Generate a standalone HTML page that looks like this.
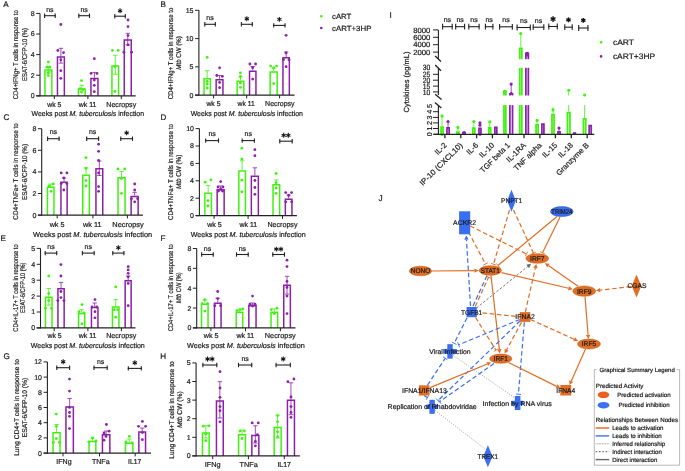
<!DOCTYPE html>
<html><head><meta charset="utf-8"><style>
html,body{margin:0;padding:0;background:#fff;}
svg{display:block;font-family:"Liberation Sans", sans-serif;will-change:transform;text-rendering:geometricPrecision;}
svg text{stroke:#1a1a1a;stroke-width:0.2px;}
</style></head><body>
<svg width="685" height="471" viewBox="0 0 685 471">
<rect width="685" height="471" fill="#fff"/>
<line x1="40" y1="13.4" x2="40" y2="96.3" stroke="#222" stroke-width="1.1" />
<line x1="36.2" y1="95.8" x2="40" y2="95.8" stroke="#222" stroke-width="1" />
<text x="34.6" y="98.25" font-size="7" text-anchor="end" fill="#1a1a1a">0</text>
<line x1="36.2" y1="75.2" x2="40" y2="75.2" stroke="#222" stroke-width="1" />
<text x="34.6" y="77.65" font-size="7" text-anchor="end" fill="#1a1a1a">2</text>
<line x1="36.2" y1="54.6" x2="40" y2="54.6" stroke="#222" stroke-width="1" />
<text x="34.6" y="57.05" font-size="7" text-anchor="end" fill="#1a1a1a">4</text>
<line x1="36.2" y1="34" x2="40" y2="34" stroke="#222" stroke-width="1" />
<text x="34.6" y="36.45" font-size="7" text-anchor="end" fill="#1a1a1a">6</text>
<line x1="36.2" y1="13.4" x2="40" y2="13.4" stroke="#222" stroke-width="1" />
<text x="34.6" y="15.85" font-size="7" text-anchor="end" fill="#1a1a1a">8</text>
<path d="M44.95 95.8 V69.95 H51.85 V95.8" fill="none" stroke="rgb(62,243,12)" stroke-width="1.5"/>
<line x1="48.4" y1="66.4" x2="48.4" y2="71.9" stroke="rgb(62,243,12)" stroke-width="0.8" />
<line x1="46.2" y1="66.4" x2="50.6" y2="66.4" stroke="rgb(62,243,12)" stroke-width="0.8" />
<line x1="46.2" y1="71.9" x2="50.6" y2="71.9" stroke="rgb(62,243,12)" stroke-width="0.8" />
<circle cx="48.3" cy="61.9" r="1.4" fill="rgb(62,243,12)"/>
<circle cx="46.8" cy="67.2" r="1.4" fill="rgb(62,243,12)"/>
<circle cx="49.8" cy="67.2" r="1.4" fill="rgb(62,243,12)"/>
<circle cx="48.3" cy="73" r="1.4" fill="rgb(62,243,12)"/>
<circle cx="48.3" cy="75.6" r="1.4" fill="rgb(62,243,12)"/>
<path d="M57.45 95.8 V57.05 H64.35 V95.8" fill="none" stroke="rgb(140,32,168)" stroke-width="1.5"/>
<line x1="60.9" y1="48.3" x2="60.9" y2="63.1" stroke="rgb(140,32,168)" stroke-width="0.8" />
<line x1="58.7" y1="48.3" x2="63.1" y2="48.3" stroke="rgb(140,32,168)" stroke-width="0.8" />
<line x1="58.7" y1="63.1" x2="63.1" y2="63.1" stroke="rgb(140,32,168)" stroke-width="0.8" />
<circle cx="57.8" cy="50.5" r="1.4" fill="rgb(140,32,168)"/>
<circle cx="63.5" cy="52.6" r="1.4" fill="rgb(140,32,168)"/>
<circle cx="60.8" cy="59.8" r="1.4" fill="rgb(140,32,168)"/>
<circle cx="60.8" cy="70.7" r="1.4" fill="rgb(140,32,168)"/>
<circle cx="60.8" cy="78.3" r="1.4" fill="rgb(140,32,168)"/>
<circle cx="60.8" cy="24.5" r="1.4" fill="rgb(140,32,168)"/>
<path d="M78.45 95.8 V88.95 H85.15 V95.8" fill="none" stroke="rgb(62,243,12)" stroke-width="1.5"/>
<line x1="81.8" y1="85.3" x2="81.8" y2="88.2" stroke="rgb(62,243,12)" stroke-width="0.8" />
<line x1="79.6" y1="85.3" x2="84" y2="85.3" stroke="rgb(62,243,12)" stroke-width="0.8" />
<circle cx="81.5" cy="80.6" r="1.4" fill="rgb(62,243,12)"/>
<circle cx="80" cy="88.7" r="1.4" fill="rgb(62,243,12)"/>
<circle cx="83" cy="89.5" r="1.4" fill="rgb(62,243,12)"/>
<circle cx="81.5" cy="92" r="1.4" fill="rgb(62,243,12)"/>
<path d="M90.95 95.8 V78.45 H97.95 V95.8" fill="none" stroke="rgb(140,32,168)" stroke-width="1.5"/>
<line x1="94.45" y1="72.4" x2="94.45" y2="77.7" stroke="rgb(140,32,168)" stroke-width="0.8" />
<line x1="92.25" y1="72.4" x2="96.65" y2="72.4" stroke="rgb(140,32,168)" stroke-width="0.8" />
<circle cx="94.3" cy="58.7" r="1.4" fill="rgb(140,32,168)"/>
<circle cx="91.1" cy="73.4" r="1.4" fill="rgb(140,32,168)"/>
<circle cx="97" cy="73.4" r="1.4" fill="rgb(140,32,168)"/>
<circle cx="94.3" cy="80" r="1.4" fill="rgb(140,32,168)"/>
<circle cx="94.3" cy="85.3" r="1.4" fill="rgb(140,32,168)"/>
<circle cx="94.3" cy="91.7" r="1.4" fill="rgb(140,32,168)"/>
<path d="M111.95 95.8 V66.05 H118.55 V95.8" fill="none" stroke="rgb(62,243,12)" stroke-width="1.5"/>
<line x1="115.25" y1="55.3" x2="115.25" y2="74.3" stroke="rgb(62,243,12)" stroke-width="0.8" />
<line x1="113.05" y1="55.3" x2="117.45" y2="55.3" stroke="rgb(62,243,12)" stroke-width="0.8" />
<line x1="113.05" y1="74.3" x2="117.45" y2="74.3" stroke="rgb(62,243,12)" stroke-width="0.8" />
<circle cx="112.4" cy="50.4" r="1.4" fill="rgb(62,243,12)"/>
<circle cx="118.2" cy="50.4" r="1.4" fill="rgb(62,243,12)"/>
<circle cx="114.9" cy="66.5" r="1.4" fill="rgb(62,243,12)"/>
<circle cx="114.9" cy="91.3" r="1.4" fill="rgb(62,243,12)"/>
<path d="M124.25 95.8 V39.95 H131.25 V95.8" fill="none" stroke="rgb(140,32,168)" stroke-width="1.5"/>
<line x1="127.75" y1="33.3" x2="127.75" y2="44.9" stroke="rgb(140,32,168)" stroke-width="0.8" />
<line x1="125.55" y1="33.3" x2="129.95" y2="33.3" stroke="rgb(140,32,168)" stroke-width="0.8" />
<line x1="125.55" y1="44.9" x2="129.95" y2="44.9" stroke="rgb(140,32,168)" stroke-width="0.8" />
<circle cx="128" cy="20" r="1.4" fill="rgb(140,32,168)"/>
<circle cx="128" cy="26.6" r="1.4" fill="rgb(140,32,168)"/>
<circle cx="128" cy="35.6" r="1.4" fill="rgb(140,32,168)"/>
<circle cx="128" cy="44.8" r="1.4" fill="rgb(140,32,168)"/>
<circle cx="123.9" cy="52.2" r="1.4" fill="rgb(140,32,168)"/>
<circle cx="131.6" cy="52.2" r="1.4" fill="rgb(140,32,168)"/>
<line x1="36.2" y1="95.8" x2="135.7" y2="95.8" stroke="#222" stroke-width="1.2" />
<line x1="54.3" y1="95.8" x2="54.3" y2="99.1" stroke="#222" stroke-width="1" />
<line x1="87.9" y1="95.8" x2="87.9" y2="99.1" stroke="#222" stroke-width="1" />
<line x1="121.3" y1="95.8" x2="121.3" y2="99.1" stroke="#222" stroke-width="1" />
<line x1="44.1" y1="15.7" x2="55.7" y2="15.7" stroke="#222" stroke-width="1.1" />
<line x1="44.6" y1="13.5" x2="44.6" y2="17.9" stroke="#222" stroke-width="1.1" />
<line x1="55.2" y1="13.5" x2="55.2" y2="17.9" stroke="#222" stroke-width="1.1" />
<text x="49.9" y="11.6" font-size="7" text-anchor="middle" fill="#1a1a1a">ns</text>
<line x1="78.3" y1="15.7" x2="90" y2="15.7" stroke="#222" stroke-width="1.1" />
<line x1="78.8" y1="13.5" x2="78.8" y2="17.9" stroke="#222" stroke-width="1.1" />
<line x1="89.5" y1="13.5" x2="89.5" y2="17.9" stroke="#222" stroke-width="1.1" />
<text x="84.15" y="11.6" font-size="7" text-anchor="middle" fill="#1a1a1a">ns</text>
<line x1="114.3" y1="16.2" x2="125.8" y2="16.2" stroke="#222" stroke-width="1.1" />
<line x1="114.8" y1="14" x2="114.8" y2="18.4" stroke="#222" stroke-width="1.1" />
<line x1="125.3" y1="14" x2="125.3" y2="18.4" stroke="#222" stroke-width="1.1" />
<line x1="120.05" y1="8.35" x2="120.05" y2="13.25" stroke="#111" stroke-width="1.05" />
<line x1="117.93" y1="9.58" x2="122.17" y2="12.03" stroke="#111" stroke-width="1.05" />
<line x1="122.17" y1="9.58" x2="117.93" y2="12.03" stroke="#111" stroke-width="1.05" />
<text x="3.2" y="6.6" font-size="8.1" fill="#1a1a1a">A</text>
<text x="0" y="0" font-size="6.9" fill="#1a1a1a" text-anchor="middle" transform="translate(18.4 54.7) rotate(-90)" textLength="89" lengthAdjust="spacingAndGlyphs">CD4+IFNg+ T cells in response to</text>
<text x="0" y="0" font-size="6.9" fill="#1a1a1a" text-anchor="middle" transform="translate(26.5 54.4) rotate(-90)" textLength="53" lengthAdjust="spacingAndGlyphs">ESAT-6/CFP-10 (%)</text>
<text x="54.35" y="106.5" font-size="7.2" text-anchor="middle" textLength="14.1" lengthAdjust="spacingAndGlyphs" fill="#1a1a1a">wk 5</text>
<text x="87.6" y="106.5" font-size="7.2" text-anchor="middle" textLength="17.6" lengthAdjust="spacingAndGlyphs" fill="#1a1a1a">wk 11</text>
<text x="121.25" y="106.5" font-size="7.2" text-anchor="middle" textLength="29.9" lengthAdjust="spacingAndGlyphs" fill="#1a1a1a">Necropsy</text>
<text x="31.5" y="116.2" font-size="7.2" fill="#1a1a1a" textLength="112.6" lengthAdjust="spacingAndGlyphs">Weeks post <tspan font-style="italic">M. tuberculosis</tspan> infection</text>
<line x1="198.9" y1="10.31" x2="198.9" y2="95.6" stroke="#222" stroke-width="1.1" />
<line x1="195.1" y1="95.1" x2="198.9" y2="95.1" stroke="#222" stroke-width="1" />
<text x="193.5" y="97.55" font-size="7" text-anchor="end" fill="#1a1a1a">0</text>
<line x1="195.1" y1="66.83" x2="198.9" y2="66.83" stroke="#222" stroke-width="1" />
<text x="193.5" y="69.28" font-size="7" text-anchor="end" fill="#1a1a1a">5</text>
<line x1="195.1" y1="38.57" x2="198.9" y2="38.57" stroke="#222" stroke-width="1" />
<text x="193.5" y="41.02" font-size="7" text-anchor="end" fill="#1a1a1a">10</text>
<line x1="195.1" y1="10.31" x2="198.9" y2="10.31" stroke="#222" stroke-width="1" />
<text x="193.5" y="12.76" font-size="7" text-anchor="end" fill="#1a1a1a">15</text>
<path d="M204.05 95.1 V78.85 H210.35 V95.1" fill="none" stroke="rgb(62,243,12)" stroke-width="1.5"/>
<line x1="207.2" y1="70.7" x2="207.2" y2="78.1" stroke="rgb(62,243,12)" stroke-width="0.8" />
<line x1="205" y1="70.7" x2="209.4" y2="70.7" stroke="rgb(62,243,12)" stroke-width="0.8" />
<circle cx="207.2" cy="57.3" r="1.4" fill="rgb(62,243,12)"/>
<circle cx="207.2" cy="81.3" r="1.4" fill="rgb(62,243,12)"/>
<circle cx="207.2" cy="84" r="1.4" fill="rgb(62,243,12)"/>
<circle cx="207.2" cy="88" r="1.4" fill="rgb(62,243,12)"/>
<path d="M216.15 95.1 V79.65 H222.95 V95.1" fill="none" stroke="rgb(140,32,168)" stroke-width="1.5"/>
<line x1="219.55" y1="75.5" x2="219.55" y2="78.9" stroke="rgb(140,32,168)" stroke-width="0.8" />
<line x1="217.35" y1="75.5" x2="221.75" y2="75.5" stroke="rgb(140,32,168)" stroke-width="0.8" />
<circle cx="219.6" cy="67.8" r="1.4" fill="rgb(140,32,168)"/>
<circle cx="216.8" cy="75.5" r="1.4" fill="rgb(140,32,168)"/>
<circle cx="222.4" cy="76.3" r="1.4" fill="rgb(140,32,168)"/>
<circle cx="219.6" cy="82.4" r="1.4" fill="rgb(140,32,168)"/>
<circle cx="219.6" cy="87.7" r="1.4" fill="rgb(140,32,168)"/>
<path d="M237.15 95.1 V81.25 H243.85 V95.1" fill="none" stroke="rgb(62,243,12)" stroke-width="1.5"/>
<line x1="240.5" y1="77" x2="240.5" y2="80.5" stroke="rgb(62,243,12)" stroke-width="0.8" />
<line x1="238.3" y1="77" x2="242.7" y2="77" stroke="rgb(62,243,12)" stroke-width="0.8" />
<circle cx="240.4" cy="72.8" r="1.4" fill="rgb(62,243,12)"/>
<circle cx="240.4" cy="76.5" r="1.4" fill="rgb(62,243,12)"/>
<circle cx="240.4" cy="82.9" r="1.4" fill="rgb(62,243,12)"/>
<circle cx="240.4" cy="87.4" r="1.4" fill="rgb(62,243,12)"/>
<path d="M249.55 95.1 V71.15 H255.95 V95.1" fill="none" stroke="rgb(140,32,168)" stroke-width="1.5"/>
<line x1="252.75" y1="66.5" x2="252.75" y2="70.4" stroke="rgb(140,32,168)" stroke-width="0.8" />
<line x1="250.55" y1="66.5" x2="254.95" y2="66.5" stroke="rgb(140,32,168)" stroke-width="0.8" />
<circle cx="249.9" cy="64" r="1.4" fill="rgb(140,32,168)"/>
<circle cx="255.6" cy="64" r="1.4" fill="rgb(140,32,168)"/>
<circle cx="252.7" cy="67.7" r="1.4" fill="rgb(140,32,168)"/>
<circle cx="252.7" cy="79.1" r="1.4" fill="rgb(140,32,168)"/>
<path d="M270.15 95.1 V71.95 H277.15 V95.1" fill="none" stroke="rgb(62,243,12)" stroke-width="1.5"/>
<line x1="273.65" y1="68" x2="273.65" y2="71.2" stroke="rgb(62,243,12)" stroke-width="0.8" />
<line x1="271.45" y1="68" x2="275.85" y2="68" stroke="rgb(62,243,12)" stroke-width="0.8" />
<circle cx="270.6" cy="66.1" r="1.4" fill="rgb(62,243,12)"/>
<circle cx="276.6" cy="66.1" r="1.4" fill="rgb(62,243,12)"/>
<circle cx="273.7" cy="68" r="1.4" fill="rgb(62,243,12)"/>
<circle cx="273.7" cy="83.6" r="1.4" fill="rgb(62,243,12)"/>
<path d="M282.95 95.1 V57.85 H289.35 V95.1" fill="none" stroke="rgb(140,32,168)" stroke-width="1.5"/>
<line x1="286.15" y1="52" x2="286.15" y2="57.1" stroke="rgb(140,32,168)" stroke-width="0.8" />
<line x1="283.95" y1="52" x2="288.35" y2="52" stroke="rgb(140,32,168)" stroke-width="0.8" />
<circle cx="286.1" cy="35.3" r="1.4" fill="rgb(140,32,168)"/>
<circle cx="286.1" cy="52.9" r="1.4" fill="rgb(140,32,168)"/>
<circle cx="283.5" cy="59.7" r="1.4" fill="rgb(140,32,168)"/>
<circle cx="289" cy="59.7" r="1.4" fill="rgb(140,32,168)"/>
<circle cx="286.1" cy="66.7" r="1.4" fill="rgb(140,32,168)"/>
<line x1="195.1" y1="95.1" x2="294.5" y2="95.1" stroke="#222" stroke-width="1.2" />
<line x1="213.6" y1="95.1" x2="213.6" y2="98.4" stroke="#222" stroke-width="1" />
<line x1="246.7" y1="95.1" x2="246.7" y2="98.4" stroke="#222" stroke-width="1" />
<line x1="279.6" y1="95.1" x2="279.6" y2="98.4" stroke="#222" stroke-width="1" />
<line x1="204.3" y1="24.3" x2="215.8" y2="24.3" stroke="#222" stroke-width="1.1" />
<line x1="204.8" y1="22.1" x2="204.8" y2="26.5" stroke="#222" stroke-width="1.1" />
<line x1="215.3" y1="22.1" x2="215.3" y2="26.5" stroke="#222" stroke-width="1.1" />
<text x="210.05" y="20" font-size="7" text-anchor="middle" fill="#1a1a1a">ns</text>
<line x1="240.9" y1="24.3" x2="252.8" y2="24.3" stroke="#222" stroke-width="1.1" />
<line x1="241.4" y1="22.1" x2="241.4" y2="26.5" stroke="#222" stroke-width="1.1" />
<line x1="252.3" y1="22.1" x2="252.3" y2="26.5" stroke="#222" stroke-width="1.1" />
<line x1="246.85" y1="16.35" x2="246.85" y2="21.25" stroke="#111" stroke-width="1.05" />
<line x1="244.73" y1="17.57" x2="248.97" y2="20.03" stroke="#111" stroke-width="1.05" />
<line x1="248.97" y1="17.57" x2="244.73" y2="20.03" stroke="#111" stroke-width="1.05" />
<line x1="273.2" y1="25.4" x2="285.5" y2="25.4" stroke="#222" stroke-width="1.1" />
<line x1="273.7" y1="23.2" x2="273.7" y2="27.6" stroke="#222" stroke-width="1.1" />
<line x1="285" y1="23.2" x2="285" y2="27.6" stroke="#222" stroke-width="1.1" />
<line x1="279.35" y1="16.95" x2="279.35" y2="21.85" stroke="#111" stroke-width="1.05" />
<line x1="277.23" y1="18.17" x2="281.47" y2="20.62" stroke="#111" stroke-width="1.05" />
<line x1="281.47" y1="18.17" x2="277.23" y2="20.62" stroke="#111" stroke-width="1.05" />
<text x="160.4" y="6.6" font-size="8.1" fill="#1a1a1a">B</text>
<text x="0" y="0" font-size="6.9" fill="#1a1a1a" text-anchor="middle" transform="translate(173 53.5) rotate(-90)" textLength="91.6" lengthAdjust="spacingAndGlyphs">CD4+IFNg+ T cells in response to</text>
<text x="0" y="0" font-size="6.9" fill="#1a1a1a" text-anchor="middle" transform="translate(180.8 52.9) rotate(-90)" textLength="33.5" lengthAdjust="spacingAndGlyphs"><tspan font-style="italic">Mtb</tspan> CW (%)</text>
<text x="213.45" y="106.3" font-size="7.2" text-anchor="middle" textLength="14.1" lengthAdjust="spacingAndGlyphs" fill="#1a1a1a">wk 5</text>
<text x="246.15" y="106.3" font-size="7.2" text-anchor="middle" textLength="17.1" lengthAdjust="spacingAndGlyphs" fill="#1a1a1a">wk 11</text>
<text x="279.85" y="106.3" font-size="7.2" text-anchor="middle" textLength="29.5" lengthAdjust="spacingAndGlyphs" fill="#1a1a1a">Necropsy</text>
<text x="190.7" y="115.6" font-size="7.2" fill="#1a1a1a" textLength="112.2" lengthAdjust="spacingAndGlyphs">Weeks post <tspan font-style="italic">M. tuberculosis</tspan> infection</text>
<line x1="41.7" y1="128.7" x2="41.7" y2="215.6" stroke="#222" stroke-width="1.1" />
<line x1="37.9" y1="215.1" x2="41.7" y2="215.1" stroke="#222" stroke-width="1" />
<text x="36.3" y="217.55" font-size="7" text-anchor="end" fill="#1a1a1a">0</text>
<line x1="37.9" y1="193.5" x2="41.7" y2="193.5" stroke="#222" stroke-width="1" />
<text x="36.3" y="195.95" font-size="7" text-anchor="end" fill="#1a1a1a">2</text>
<line x1="37.9" y1="171.9" x2="41.7" y2="171.9" stroke="#222" stroke-width="1" />
<text x="36.3" y="174.35" font-size="7" text-anchor="end" fill="#1a1a1a">4</text>
<line x1="37.9" y1="150.3" x2="41.7" y2="150.3" stroke="#222" stroke-width="1" />
<text x="36.3" y="152.75" font-size="7" text-anchor="end" fill="#1a1a1a">6</text>
<line x1="37.9" y1="128.7" x2="41.7" y2="128.7" stroke="#222" stroke-width="1" />
<text x="36.3" y="131.15" font-size="7" text-anchor="end" fill="#1a1a1a">8</text>
<path d="M47.45 215.1 V187.35 H53.95 V215.1" fill="none" stroke="rgb(62,243,12)" stroke-width="1.5"/>
<line x1="50.7" y1="184" x2="50.7" y2="186.6" stroke="rgb(62,243,12)" stroke-width="0.8" />
<line x1="48.5" y1="184" x2="52.9" y2="184" stroke="rgb(62,243,12)" stroke-width="0.8" />
<circle cx="49.1" cy="186" r="1.4" fill="rgb(62,243,12)"/>
<circle cx="53.3" cy="184" r="1.4" fill="rgb(62,243,12)"/>
<circle cx="51.1" cy="191.3" r="1.4" fill="rgb(62,243,12)"/>
<path d="M60.95 215.1 V182.35 H67.15 V215.1" fill="none" stroke="rgb(140,32,168)" stroke-width="1.5"/>
<line x1="64.05" y1="178" x2="64.05" y2="181.6" stroke="rgb(140,32,168)" stroke-width="0.8" />
<line x1="61.85" y1="178" x2="66.25" y2="178" stroke="rgb(140,32,168)" stroke-width="0.8" />
<circle cx="61.2" cy="172.9" r="1.4" fill="rgb(140,32,168)"/>
<circle cx="66.9" cy="172.9" r="1.4" fill="rgb(140,32,168)"/>
<circle cx="63.8" cy="177.9" r="1.4" fill="rgb(140,32,168)"/>
<circle cx="61.2" cy="183.6" r="1.4" fill="rgb(140,32,168)"/>
<circle cx="66.9" cy="183.6" r="1.4" fill="rgb(140,32,168)"/>
<circle cx="63.8" cy="190" r="1.4" fill="rgb(140,32,168)"/>
<path d="M82.75 215.1 V175.25 H89.35 V215.1" fill="none" stroke="rgb(62,243,12)" stroke-width="1.5"/>
<line x1="86.05" y1="167.8" x2="86.05" y2="174.5" stroke="rgb(62,243,12)" stroke-width="0.8" />
<line x1="83.85" y1="167.8" x2="88.25" y2="167.8" stroke="rgb(62,243,12)" stroke-width="0.8" />
<circle cx="86" cy="157.7" r="1.4" fill="rgb(62,243,12)"/>
<circle cx="86" cy="168.4" r="1.4" fill="rgb(62,243,12)"/>
<circle cx="86" cy="180.6" r="1.4" fill="rgb(62,243,12)"/>
<circle cx="86" cy="186" r="1.4" fill="rgb(62,243,12)"/>
<path d="M95.95 215.1 V168.75 H102.75 V215.1" fill="none" stroke="rgb(140,32,168)" stroke-width="1.5"/>
<line x1="99.35" y1="161" x2="99.35" y2="175.5" stroke="rgb(140,32,168)" stroke-width="0.8" />
<line x1="97.15" y1="161" x2="101.55" y2="161" stroke="rgb(140,32,168)" stroke-width="0.8" />
<line x1="97.15" y1="175.5" x2="101.55" y2="175.5" stroke="rgb(140,32,168)" stroke-width="0.8" />
<circle cx="98.6" cy="144.2" r="1.4" fill="rgb(140,32,168)"/>
<circle cx="98.6" cy="151.3" r="1.4" fill="rgb(140,32,168)"/>
<circle cx="98.6" cy="160.4" r="1.4" fill="rgb(140,32,168)"/>
<circle cx="98.6" cy="172.9" r="1.4" fill="rgb(140,32,168)"/>
<circle cx="98.6" cy="186.6" r="1.4" fill="rgb(140,32,168)"/>
<circle cx="98.6" cy="191.3" r="1.4" fill="rgb(140,32,168)"/>
<path d="M118.05 215.1 V177.85 H125.05 V215.1" fill="none" stroke="rgb(62,243,12)" stroke-width="1.5"/>
<line x1="121.55" y1="171.5" x2="121.55" y2="177.1" stroke="rgb(62,243,12)" stroke-width="0.8" />
<line x1="119.35" y1="171.5" x2="123.75" y2="171.5" stroke="rgb(62,243,12)" stroke-width="0.8" />
<circle cx="117.9" cy="169" r="1.4" fill="rgb(62,243,12)"/>
<circle cx="124.7" cy="169" r="1.4" fill="rgb(62,243,12)"/>
<circle cx="121.5" cy="178.5" r="1.4" fill="rgb(62,243,12)"/>
<circle cx="121.5" cy="193.3" r="1.4" fill="rgb(62,243,12)"/>
<path d="M131.15 215.1 V196.45 H138.15 V215.1" fill="none" stroke="rgb(140,32,168)" stroke-width="1.5"/>
<line x1="134.65" y1="192.3" x2="134.65" y2="195.7" stroke="rgb(140,32,168)" stroke-width="0.8" />
<line x1="132.45" y1="192.3" x2="136.85" y2="192.3" stroke="rgb(140,32,168)" stroke-width="0.8" />
<circle cx="134.7" cy="184" r="1.4" fill="rgb(140,32,168)"/>
<circle cx="134.7" cy="190" r="1.4" fill="rgb(140,32,168)"/>
<circle cx="131.5" cy="198.7" r="1.4" fill="rgb(140,32,168)"/>
<circle cx="137.6" cy="198.7" r="1.4" fill="rgb(140,32,168)"/>
<circle cx="134.7" cy="201.8" r="1.4" fill="rgb(140,32,168)"/>
<line x1="37.9" y1="215.1" x2="142.9" y2="215.1" stroke="#222" stroke-width="1.2" />
<line x1="57.2" y1="215.1" x2="57.2" y2="218.4" stroke="#222" stroke-width="1" />
<line x1="92.9" y1="215.1" x2="92.9" y2="218.4" stroke="#222" stroke-width="1" />
<line x1="127.4" y1="215.1" x2="127.4" y2="218.4" stroke="#222" stroke-width="1" />
<line x1="47.1" y1="138.7" x2="59.6" y2="138.7" stroke="#222" stroke-width="1.1" />
<line x1="47.6" y1="136.5" x2="47.6" y2="140.9" stroke="#222" stroke-width="1.1" />
<line x1="59.1" y1="136.5" x2="59.1" y2="140.9" stroke="#222" stroke-width="1.1" />
<text x="53.35" y="134.3" font-size="7" text-anchor="middle" fill="#1a1a1a">ns</text>
<line x1="86.2" y1="138.7" x2="99.1" y2="138.7" stroke="#222" stroke-width="1.1" />
<line x1="86.7" y1="136.5" x2="86.7" y2="140.9" stroke="#222" stroke-width="1.1" />
<line x1="98.6" y1="136.5" x2="98.6" y2="140.9" stroke="#222" stroke-width="1.1" />
<text x="92.65" y="134.3" font-size="7" text-anchor="middle" fill="#1a1a1a">ns</text>
<line x1="120.3" y1="138.7" x2="133" y2="138.7" stroke="#222" stroke-width="1.1" />
<line x1="120.8" y1="136.5" x2="120.8" y2="140.9" stroke="#222" stroke-width="1.1" />
<line x1="132.5" y1="136.5" x2="132.5" y2="140.9" stroke="#222" stroke-width="1.1" />
<line x1="126.65" y1="130.45" x2="126.65" y2="135.35" stroke="#111" stroke-width="1.05" />
<line x1="124.53" y1="131.68" x2="128.77" y2="134.12" stroke="#111" stroke-width="1.05" />
<line x1="128.77" y1="131.68" x2="124.53" y2="134.12" stroke="#111" stroke-width="1.05" />
<text x="3.5" y="120.4" font-size="8.1" fill="#1a1a1a">C</text>
<text x="0" y="0" font-size="6.9" fill="#1a1a1a" text-anchor="middle" transform="translate(18.4 171.5) rotate(-90)" textLength="96.3" lengthAdjust="spacingAndGlyphs">CD4+TNFa+ T cells in response to</text>
<text x="0" y="0" font-size="6.9" fill="#1a1a1a" text-anchor="middle" transform="translate(27.1 172) rotate(-90)" textLength="56" lengthAdjust="spacingAndGlyphs">ESAT-6/CFP-10 (%)</text>
<text x="57.05" y="227" font-size="7.2" text-anchor="middle" textLength="14.7" lengthAdjust="spacingAndGlyphs" fill="#1a1a1a">wk 5</text>
<text x="92.2" y="227" font-size="7.2" text-anchor="middle" textLength="18.6" lengthAdjust="spacingAndGlyphs" fill="#1a1a1a">wk 11</text>
<text x="128.05" y="227" font-size="7.2" text-anchor="middle" textLength="31.5" lengthAdjust="spacingAndGlyphs" fill="#1a1a1a">Necropsy</text>
<text x="33" y="236.5" font-size="7.2" fill="#1a1a1a" textLength="119.1" lengthAdjust="spacingAndGlyphs">Weeks post <tspan font-style="italic">M. tuberculosis</tspan> infection</text>
<line x1="199.4" y1="128.6" x2="199.4" y2="216.1" stroke="#222" stroke-width="1.1" />
<line x1="195.6" y1="215.6" x2="199.4" y2="215.6" stroke="#222" stroke-width="1" />
<text x="194" y="218.05" font-size="7" text-anchor="end" fill="#1a1a1a">0</text>
<line x1="195.6" y1="198.2" x2="199.4" y2="198.2" stroke="#222" stroke-width="1" />
<text x="194" y="200.65" font-size="7" text-anchor="end" fill="#1a1a1a">2</text>
<line x1="195.6" y1="180.8" x2="199.4" y2="180.8" stroke="#222" stroke-width="1" />
<text x="194" y="183.25" font-size="7" text-anchor="end" fill="#1a1a1a">4</text>
<line x1="195.6" y1="163.4" x2="199.4" y2="163.4" stroke="#222" stroke-width="1" />
<text x="194" y="165.85" font-size="7" text-anchor="end" fill="#1a1a1a">6</text>
<line x1="195.6" y1="146" x2="199.4" y2="146" stroke="#222" stroke-width="1" />
<text x="194" y="148.45" font-size="7" text-anchor="end" fill="#1a1a1a">8</text>
<line x1="195.6" y1="128.6" x2="199.4" y2="128.6" stroke="#222" stroke-width="1" />
<text x="194" y="131.05" font-size="7" text-anchor="end" fill="#1a1a1a">10</text>
<path d="M204.85 215.6 V193.35 H211.45 V215.6" fill="none" stroke="rgb(62,243,12)" stroke-width="1.5"/>
<line x1="208.15" y1="185.4" x2="208.15" y2="192.6" stroke="rgb(62,243,12)" stroke-width="0.8" />
<line x1="205.95" y1="185.4" x2="210.35" y2="185.4" stroke="rgb(62,243,12)" stroke-width="0.8" />
<circle cx="205.2" cy="182.2" r="1.4" fill="rgb(62,243,12)"/>
<circle cx="210.9" cy="179.9" r="1.4" fill="rgb(62,243,12)"/>
<circle cx="207.9" cy="200.7" r="1.4" fill="rgb(62,243,12)"/>
<circle cx="207.9" cy="206" r="1.4" fill="rgb(62,243,12)"/>
<path d="M217.15 215.6 V189.75 H224.15 V215.6" fill="none" stroke="rgb(140,32,168)" stroke-width="1.5"/>
<line x1="220.65" y1="186" x2="220.65" y2="189" stroke="rgb(140,32,168)" stroke-width="0.8" />
<line x1="218.45" y1="186" x2="222.85" y2="186" stroke="rgb(140,32,168)" stroke-width="0.8" />
<circle cx="220.7" cy="181.6" r="1.4" fill="rgb(140,32,168)"/>
<circle cx="218" cy="187" r="1.4" fill="rgb(140,32,168)"/>
<circle cx="223" cy="187" r="1.4" fill="rgb(140,32,168)"/>
<circle cx="220.7" cy="189" r="1.4" fill="rgb(140,32,168)"/>
<circle cx="218.5" cy="191" r="1.4" fill="rgb(140,32,168)"/>
<circle cx="222.5" cy="191" r="1.4" fill="rgb(140,32,168)"/>
<path d="M238.85 215.6 V171.05 H245.45 V215.6" fill="none" stroke="rgb(62,243,12)" stroke-width="1.5"/>
<line x1="242.15" y1="160.8" x2="242.15" y2="170.3" stroke="rgb(62,243,12)" stroke-width="0.8" />
<line x1="239.95" y1="160.8" x2="244.35" y2="160.8" stroke="rgb(62,243,12)" stroke-width="0.8" />
<circle cx="241.9" cy="148.2" r="1.4" fill="rgb(62,243,12)"/>
<circle cx="241.9" cy="158.9" r="1.4" fill="rgb(62,243,12)"/>
<circle cx="241.9" cy="180.1" r="1.4" fill="rgb(62,243,12)"/>
<circle cx="241.9" cy="191.8" r="1.4" fill="rgb(62,243,12)"/>
<path d="M251.35 215.6 V176.35 H258.35 V215.6" fill="none" stroke="rgb(140,32,168)" stroke-width="1.5"/>
<line x1="254.85" y1="167.8" x2="254.85" y2="175.6" stroke="rgb(140,32,168)" stroke-width="0.8" />
<line x1="252.65" y1="167.8" x2="257.05" y2="167.8" stroke="rgb(140,32,168)" stroke-width="0.8" />
<circle cx="254.9" cy="149.7" r="1.4" fill="rgb(140,32,168)"/>
<circle cx="254.9" cy="155.7" r="1.4" fill="rgb(140,32,168)"/>
<circle cx="254.9" cy="180.5" r="1.4" fill="rgb(140,32,168)"/>
<circle cx="254.9" cy="187.5" r="1.4" fill="rgb(140,32,168)"/>
<circle cx="254.9" cy="194.3" r="1.4" fill="rgb(140,32,168)"/>
<path d="M273.05 215.6 V184.85 H279.65 V215.6" fill="none" stroke="rgb(62,243,12)" stroke-width="1.5"/>
<line x1="276.35" y1="179.9" x2="276.35" y2="184.1" stroke="rgb(62,243,12)" stroke-width="0.8" />
<line x1="274.15" y1="179.9" x2="278.55" y2="179.9" stroke="rgb(62,243,12)" stroke-width="0.8" />
<circle cx="276.1" cy="173.5" r="1.4" fill="rgb(62,243,12)"/>
<circle cx="276.1" cy="182.7" r="1.4" fill="rgb(62,243,12)"/>
<circle cx="276.1" cy="188" r="1.4" fill="rgb(62,243,12)"/>
<circle cx="276.1" cy="193.3" r="1.4" fill="rgb(62,243,12)"/>
<path d="M285.35 215.6 V199.35 H291.95 V215.6" fill="none" stroke="rgb(140,32,168)" stroke-width="1.5"/>
<line x1="288.65" y1="195" x2="288.65" y2="198.6" stroke="rgb(140,32,168)" stroke-width="0.8" />
<line x1="286.45" y1="195" x2="290.85" y2="195" stroke="rgb(140,32,168)" stroke-width="0.8" />
<circle cx="285.7" cy="192.6" r="1.4" fill="rgb(140,32,168)"/>
<circle cx="291.6" cy="192.6" r="1.4" fill="rgb(140,32,168)"/>
<circle cx="288.7" cy="195.4" r="1.4" fill="rgb(140,32,168)"/>
<circle cx="285.7" cy="201.8" r="1.4" fill="rgb(140,32,168)"/>
<circle cx="291.6" cy="201.8" r="1.4" fill="rgb(140,32,168)"/>
<line x1="195.6" y1="215.6" x2="296.9" y2="215.6" stroke="#222" stroke-width="1.2" />
<line x1="214.1" y1="215.6" x2="214.1" y2="218.9" stroke="#222" stroke-width="1" />
<line x1="248.1" y1="215.6" x2="248.1" y2="218.9" stroke="#222" stroke-width="1" />
<line x1="282.5" y1="215.6" x2="282.5" y2="218.9" stroke="#222" stroke-width="1" />
<line x1="205.2" y1="140.6" x2="219" y2="140.6" stroke="#222" stroke-width="1.1" />
<line x1="205.7" y1="138.4" x2="205.7" y2="142.8" stroke="#222" stroke-width="1.1" />
<line x1="218.5" y1="138.4" x2="218.5" y2="142.8" stroke="#222" stroke-width="1.1" />
<text x="212.1" y="136.3" font-size="7" text-anchor="middle" fill="#1a1a1a">ns</text>
<line x1="241.7" y1="140.6" x2="254.9" y2="140.6" stroke="#222" stroke-width="1.1" />
<line x1="242.2" y1="138.4" x2="242.2" y2="142.8" stroke="#222" stroke-width="1.1" />
<line x1="254.4" y1="138.4" x2="254.4" y2="142.8" stroke="#222" stroke-width="1.1" />
<text x="248.3" y="136.3" font-size="7" text-anchor="middle" fill="#1a1a1a">ns</text>
<line x1="279.3" y1="141.2" x2="292.7" y2="141.2" stroke="#222" stroke-width="1.1" />
<line x1="279.8" y1="139" x2="279.8" y2="143.4" stroke="#222" stroke-width="1.1" />
<line x1="292.2" y1="139" x2="292.2" y2="143.4" stroke="#222" stroke-width="1.1" />
<line x1="283.7" y1="132.85" x2="283.7" y2="137.75" stroke="#111" stroke-width="1.05" />
<line x1="281.58" y1="134.08" x2="285.82" y2="136.53" stroke="#111" stroke-width="1.05" />
<line x1="285.82" y1="134.08" x2="281.58" y2="136.53" stroke="#111" stroke-width="1.05" />
<line x1="288.3" y1="132.85" x2="288.3" y2="137.75" stroke="#111" stroke-width="1.05" />
<line x1="286.18" y1="134.08" x2="290.42" y2="136.53" stroke="#111" stroke-width="1.05" />
<line x1="290.42" y1="134.08" x2="286.18" y2="136.53" stroke="#111" stroke-width="1.05" />
<text x="160.4" y="120.4" font-size="8.1" fill="#1a1a1a">D</text>
<text x="0" y="0" font-size="6.9" fill="#1a1a1a" text-anchor="middle" transform="translate(173.2 172.1) rotate(-90)" textLength="96" lengthAdjust="spacingAndGlyphs">CD4+TNFa+ T cells in response to</text>
<text x="0" y="0" font-size="6.9" fill="#1a1a1a" text-anchor="middle" transform="translate(181 171.9) rotate(-90)" textLength="34.4" lengthAdjust="spacingAndGlyphs"><tspan font-style="italic">Mtb</tspan> CW (%)</text>
<text x="214.4" y="227" font-size="7.2" text-anchor="middle" textLength="14.4" lengthAdjust="spacingAndGlyphs" fill="#1a1a1a">wk 5</text>
<text x="248.3" y="227" font-size="7.2" text-anchor="middle" textLength="17.6" lengthAdjust="spacingAndGlyphs" fill="#1a1a1a">wk 11</text>
<text x="282.45" y="227" font-size="7.2" text-anchor="middle" textLength="30.1" lengthAdjust="spacingAndGlyphs" fill="#1a1a1a">Necropsy</text>
<text x="190.7" y="236.5" font-size="7.2" fill="#1a1a1a" textLength="115" lengthAdjust="spacingAndGlyphs">Weeks post <tspan font-style="italic">M. tuberculosis</tspan> infection</text>
<line x1="40.5" y1="248.4" x2="40.5" y2="328.4" stroke="#222" stroke-width="1.1" />
<line x1="36.7" y1="327.9" x2="40.5" y2="327.9" stroke="#222" stroke-width="1" />
<text x="35.1" y="330.35" font-size="7" text-anchor="end" fill="#1a1a1a">0</text>
<line x1="36.7" y1="312" x2="40.5" y2="312" stroke="#222" stroke-width="1" />
<text x="35.1" y="314.45" font-size="7" text-anchor="end" fill="#1a1a1a">1</text>
<line x1="36.7" y1="296.1" x2="40.5" y2="296.1" stroke="#222" stroke-width="1" />
<text x="35.1" y="298.55" font-size="7" text-anchor="end" fill="#1a1a1a">2</text>
<line x1="36.7" y1="280.2" x2="40.5" y2="280.2" stroke="#222" stroke-width="1" />
<text x="35.1" y="282.65" font-size="7" text-anchor="end" fill="#1a1a1a">3</text>
<line x1="36.7" y1="264.3" x2="40.5" y2="264.3" stroke="#222" stroke-width="1" />
<text x="35.1" y="266.75" font-size="7" text-anchor="end" fill="#1a1a1a">4</text>
<line x1="36.7" y1="248.4" x2="40.5" y2="248.4" stroke="#222" stroke-width="1" />
<text x="35.1" y="250.85" font-size="7" text-anchor="end" fill="#1a1a1a">5</text>
<path d="M45.45 327.9 V297.35 H52.05 V327.9" fill="none" stroke="rgb(62,243,12)" stroke-width="1.5"/>
<line x1="48.75" y1="288.5" x2="48.75" y2="305" stroke="rgb(62,243,12)" stroke-width="0.8" />
<line x1="46.55" y1="288.5" x2="50.95" y2="288.5" stroke="rgb(62,243,12)" stroke-width="0.8" />
<line x1="46.55" y1="305" x2="50.95" y2="305" stroke="rgb(62,243,12)" stroke-width="0.8" />
<circle cx="48.7" cy="276" r="1.4" fill="rgb(62,243,12)"/>
<circle cx="48.7" cy="293.5" r="1.4" fill="rgb(62,243,12)"/>
<circle cx="48.7" cy="300.6" r="1.4" fill="rgb(62,243,12)"/>
<circle cx="45.5" cy="308.3" r="1.4" fill="rgb(62,243,12)"/>
<circle cx="51.6" cy="308.3" r="1.4" fill="rgb(62,243,12)"/>
<path d="M57.95 327.9 V288.85 H64.15 V327.9" fill="none" stroke="rgb(140,32,168)" stroke-width="1.5"/>
<line x1="61.05" y1="282.4" x2="61.05" y2="288.1" stroke="rgb(140,32,168)" stroke-width="0.8" />
<line x1="58.85" y1="282.4" x2="63.25" y2="282.4" stroke="rgb(140,32,168)" stroke-width="0.8" />
<circle cx="60.9" cy="264.6" r="1.4" fill="rgb(140,32,168)"/>
<circle cx="60.9" cy="276" r="1.4" fill="rgb(140,32,168)"/>
<circle cx="60.9" cy="291.5" r="1.4" fill="rgb(140,32,168)"/>
<circle cx="60.9" cy="297.6" r="1.4" fill="rgb(140,32,168)"/>
<circle cx="57.8" cy="300.6" r="1.4" fill="rgb(140,32,168)"/>
<circle cx="64" cy="300.6" r="1.4" fill="rgb(140,32,168)"/>
<path d="M78.55 327.9 V313.45 H84.75 V327.9" fill="none" stroke="rgb(62,243,12)" stroke-width="1.5"/>
<line x1="81.65" y1="309.7" x2="81.65" y2="312.7" stroke="rgb(62,243,12)" stroke-width="0.8" />
<line x1="79.45" y1="309.7" x2="83.85" y2="309.7" stroke="rgb(62,243,12)" stroke-width="0.8" />
<circle cx="82" cy="304.6" r="1.4" fill="rgb(62,243,12)"/>
<circle cx="79" cy="311.7" r="1.4" fill="rgb(62,243,12)"/>
<circle cx="84" cy="313" r="1.4" fill="rgb(62,243,12)"/>
<circle cx="82" cy="323.8" r="1.4" fill="rgb(62,243,12)"/>
<path d="M91.45 327.9 V307.45 H97.95 V327.9" fill="none" stroke="rgb(140,32,168)" stroke-width="1.5"/>
<line x1="94.7" y1="303" x2="94.7" y2="306.7" stroke="rgb(140,32,168)" stroke-width="0.8" />
<line x1="92.5" y1="303" x2="96.9" y2="303" stroke="rgb(140,32,168)" stroke-width="0.8" />
<circle cx="95" cy="299.6" r="1.4" fill="rgb(140,32,168)"/>
<circle cx="92.1" cy="307" r="1.4" fill="rgb(140,32,168)"/>
<circle cx="96.7" cy="307" r="1.4" fill="rgb(140,32,168)"/>
<circle cx="95" cy="311.7" r="1.4" fill="rgb(140,32,168)"/>
<circle cx="95" cy="317.8" r="1.4" fill="rgb(140,32,168)"/>
<path d="M112.45 327.9 V307.05 H118.95 V327.9" fill="none" stroke="rgb(62,243,12)" stroke-width="1.5"/>
<line x1="115.7" y1="299.6" x2="115.7" y2="306.3" stroke="rgb(62,243,12)" stroke-width="0.8" />
<line x1="113.5" y1="299.6" x2="117.9" y2="299.6" stroke="rgb(62,243,12)" stroke-width="0.8" />
<circle cx="115.7" cy="286.9" r="1.4" fill="rgb(62,243,12)"/>
<circle cx="114.3" cy="309.7" r="1.4" fill="rgb(62,243,12)"/>
<circle cx="117.7" cy="309.7" r="1.4" fill="rgb(62,243,12)"/>
<circle cx="115.7" cy="317.2" r="1.4" fill="rgb(62,243,12)"/>
<path d="M125.15 327.9 V280.75 H131.15 V327.9" fill="none" stroke="rgb(140,32,168)" stroke-width="1.5"/>
<line x1="128.15" y1="276" x2="128.15" y2="280" stroke="rgb(140,32,168)" stroke-width="0.8" />
<line x1="125.95" y1="276" x2="130.35" y2="276" stroke="rgb(140,32,168)" stroke-width="0.8" />
<circle cx="128.2" cy="266.7" r="1.4" fill="rgb(140,32,168)"/>
<circle cx="128.2" cy="269.9" r="1.4" fill="rgb(140,32,168)"/>
<circle cx="128.2" cy="273.3" r="1.4" fill="rgb(140,32,168)"/>
<circle cx="128.2" cy="276.8" r="1.4" fill="rgb(140,32,168)"/>
<circle cx="128.2" cy="283.4" r="1.4" fill="rgb(140,32,168)"/>
<circle cx="128.2" cy="305.7" r="1.4" fill="rgb(140,32,168)"/>
<line x1="36.7" y1="327.9" x2="135.5" y2="327.9" stroke="#222" stroke-width="1.2" />
<line x1="54.2" y1="327.9" x2="54.2" y2="331.2" stroke="#222" stroke-width="1" />
<line x1="87.9" y1="327.9" x2="87.9" y2="331.2" stroke="#222" stroke-width="1" />
<line x1="121.4" y1="327.9" x2="121.4" y2="331.2" stroke="#222" stroke-width="1" />
<line x1="44.7" y1="253.1" x2="57.2" y2="253.1" stroke="#222" stroke-width="1.1" />
<line x1="45.2" y1="250.9" x2="45.2" y2="255.3" stroke="#222" stroke-width="1.1" />
<line x1="56.7" y1="250.9" x2="56.7" y2="255.3" stroke="#222" stroke-width="1.1" />
<text x="50.95" y="249" font-size="7" text-anchor="middle" fill="#1a1a1a">ns</text>
<line x1="81.9" y1="253.1" x2="94.7" y2="253.1" stroke="#222" stroke-width="1.1" />
<line x1="82.4" y1="250.9" x2="82.4" y2="255.3" stroke="#222" stroke-width="1.1" />
<line x1="94.2" y1="250.9" x2="94.2" y2="255.3" stroke="#222" stroke-width="1.1" />
<text x="88.3" y="249" font-size="7" text-anchor="middle" fill="#1a1a1a">ns</text>
<line x1="112.3" y1="253.1" x2="124.4" y2="253.1" stroke="#222" stroke-width="1.1" />
<line x1="112.8" y1="250.9" x2="112.8" y2="255.3" stroke="#222" stroke-width="1.1" />
<line x1="123.9" y1="250.9" x2="123.9" y2="255.3" stroke="#222" stroke-width="1.1" />
<line x1="118.35" y1="245.25" x2="118.35" y2="250.15" stroke="#111" stroke-width="1.05" />
<line x1="116.23" y1="246.47" x2="120.47" y2="248.92" stroke="#111" stroke-width="1.05" />
<line x1="120.47" y1="246.47" x2="116.23" y2="248.92" stroke="#111" stroke-width="1.05" />
<text x="0.6" y="240.6" font-size="8.1" fill="#1a1a1a">E</text>
<text x="0" y="0" font-size="6.9" fill="#1a1a1a" text-anchor="middle" transform="translate(17.7 288) rotate(-90)" textLength="87.3" lengthAdjust="spacingAndGlyphs">CD4+IL-17+ T cells in response to</text>
<text x="0" y="0" font-size="6.9" fill="#1a1a1a" text-anchor="middle" transform="translate(25 287.8) rotate(-90)" textLength="50.6" lengthAdjust="spacingAndGlyphs">ESAT-6/CFP-10 (%)</text>
<text x="54.6" y="338.1" font-size="7.2" text-anchor="middle" textLength="14.2" lengthAdjust="spacingAndGlyphs" fill="#1a1a1a">wk 5</text>
<text x="87.65" y="338.1" font-size="7.2" text-anchor="middle" textLength="17.7" lengthAdjust="spacingAndGlyphs" fill="#1a1a1a">wk 11</text>
<text x="121.25" y="338.1" font-size="7.2" text-anchor="middle" textLength="30.1" lengthAdjust="spacingAndGlyphs" fill="#1a1a1a">Necropsy</text>
<text x="30.8" y="347.5" font-size="7.2" fill="#1a1a1a" textLength="114" lengthAdjust="spacingAndGlyphs">Weeks post <tspan font-style="italic">M. tuberculosis</tspan> infection</text>
<line x1="196.7" y1="248.5" x2="196.7" y2="328.4" stroke="#222" stroke-width="1.1" />
<line x1="192.9" y1="327.9" x2="196.7" y2="327.9" stroke="#222" stroke-width="1" />
<text x="191.3" y="330.35" font-size="7" text-anchor="end" fill="#1a1a1a">0</text>
<line x1="192.9" y1="308.05" x2="196.7" y2="308.05" stroke="#222" stroke-width="1" />
<text x="191.3" y="310.5" font-size="7" text-anchor="end" fill="#1a1a1a">2</text>
<line x1="192.9" y1="288.2" x2="196.7" y2="288.2" stroke="#222" stroke-width="1" />
<text x="191.3" y="290.65" font-size="7" text-anchor="end" fill="#1a1a1a">4</text>
<line x1="192.9" y1="268.35" x2="196.7" y2="268.35" stroke="#222" stroke-width="1" />
<text x="191.3" y="270.8" font-size="7" text-anchor="end" fill="#1a1a1a">6</text>
<line x1="192.9" y1="248.5" x2="196.7" y2="248.5" stroke="#222" stroke-width="1" />
<text x="191.3" y="250.95" font-size="7" text-anchor="end" fill="#1a1a1a">8</text>
<path d="M201.55 327.9 V304.35 H208.05 V327.9" fill="none" stroke="rgb(62,243,12)" stroke-width="1.5"/>
<line x1="204.8" y1="300" x2="204.8" y2="303.6" stroke="rgb(62,243,12)" stroke-width="0.8" />
<line x1="202.6" y1="300" x2="207" y2="300" stroke="rgb(62,243,12)" stroke-width="0.8" />
<circle cx="204.8" cy="299.6" r="1.4" fill="rgb(62,243,12)"/>
<circle cx="202.2" cy="303.6" r="1.4" fill="rgb(62,243,12)"/>
<circle cx="207.6" cy="303.6" r="1.4" fill="rgb(62,243,12)"/>
<circle cx="204.8" cy="311.1" r="1.4" fill="rgb(62,243,12)"/>
<path d="M214.45 327.9 V303.35 H221.05 V327.9" fill="none" stroke="rgb(140,32,168)" stroke-width="1.5"/>
<line x1="217.75" y1="298.2" x2="217.75" y2="302.6" stroke="rgb(140,32,168)" stroke-width="0.8" />
<line x1="215.55" y1="298.2" x2="219.95" y2="298.2" stroke="rgb(140,32,168)" stroke-width="0.8" />
<circle cx="217.7" cy="291.5" r="1.4" fill="rgb(140,32,168)"/>
<circle cx="217.7" cy="298.6" r="1.4" fill="rgb(140,32,168)"/>
<circle cx="214.9" cy="305.7" r="1.4" fill="rgb(140,32,168)"/>
<circle cx="220.6" cy="305.7" r="1.4" fill="rgb(140,32,168)"/>
<path d="M236.25 327.9 V312.35 H242.75 V327.9" fill="none" stroke="rgb(62,243,12)" stroke-width="1.5"/>
<line x1="239.5" y1="310" x2="239.5" y2="311.6" stroke="rgb(62,243,12)" stroke-width="0.8" />
<line x1="237.3" y1="310" x2="241.7" y2="310" stroke="rgb(62,243,12)" stroke-width="0.8" />
<circle cx="237" cy="310.6" r="1.4" fill="rgb(62,243,12)"/>
<circle cx="240" cy="309.6" r="1.4" fill="rgb(62,243,12)"/>
<circle cx="242.7" cy="309" r="1.4" fill="rgb(62,243,12)"/>
<path d="M248.85 327.9 V305.75 H256.05 V327.9" fill="none" stroke="rgb(140,32,168)" stroke-width="1.5"/>
<line x1="252.45" y1="303" x2="252.45" y2="305" stroke="rgb(140,32,168)" stroke-width="0.8" />
<line x1="250.25" y1="303" x2="254.65" y2="303" stroke="rgb(140,32,168)" stroke-width="0.8" />
<circle cx="252.5" cy="296.1" r="1.4" fill="rgb(140,32,168)"/>
<circle cx="250" cy="304.2" r="1.4" fill="rgb(140,32,168)"/>
<circle cx="255" cy="304.2" r="1.4" fill="rgb(140,32,168)"/>
<circle cx="252.5" cy="306" r="1.4" fill="rgb(140,32,168)"/>
<path d="M271.05 327.9 V312.35 H277.65 V327.9" fill="none" stroke="rgb(62,243,12)" stroke-width="1.5"/>
<line x1="274.35" y1="309" x2="274.35" y2="311.6" stroke="rgb(62,243,12)" stroke-width="0.8" />
<line x1="272.15" y1="309" x2="276.55" y2="309" stroke="rgb(62,243,12)" stroke-width="0.8" />
<circle cx="271.3" cy="309.6" r="1.4" fill="rgb(62,243,12)"/>
<circle cx="277" cy="308.2" r="1.4" fill="rgb(62,243,12)"/>
<circle cx="274.3" cy="313.6" r="1.4" fill="rgb(62,243,12)"/>
<path d="M283.75 327.9 V285.15 H290.35 V327.9" fill="none" stroke="rgb(140,32,168)" stroke-width="1.5"/>
<line x1="287.05" y1="276.3" x2="287.05" y2="294.1" stroke="rgb(140,32,168)" stroke-width="0.8" />
<line x1="284.85" y1="276.3" x2="289.25" y2="276.3" stroke="rgb(140,32,168)" stroke-width="0.8" />
<line x1="284.85" y1="294.1" x2="289.25" y2="294.1" stroke="rgb(140,32,168)" stroke-width="0.8" />
<circle cx="287" cy="260.2" r="1.4" fill="rgb(140,32,168)"/>
<circle cx="287" cy="266.6" r="1.4" fill="rgb(140,32,168)"/>
<circle cx="287" cy="281.4" r="1.4" fill="rgb(140,32,168)"/>
<circle cx="287" cy="287.4" r="1.4" fill="rgb(140,32,168)"/>
<circle cx="287" cy="296.1" r="1.4" fill="rgb(140,32,168)"/>
<circle cx="287" cy="313.6" r="1.4" fill="rgb(140,32,168)"/>
<line x1="192.9" y1="327.9" x2="295.5" y2="327.9" stroke="#222" stroke-width="1.2" />
<line x1="210.9" y1="327.9" x2="210.9" y2="331.2" stroke="#222" stroke-width="1" />
<line x1="245.5" y1="327.9" x2="245.5" y2="331.2" stroke="#222" stroke-width="1" />
<line x1="280.4" y1="327.9" x2="280.4" y2="331.2" stroke="#222" stroke-width="1" />
<line x1="201.2" y1="254.5" x2="213.7" y2="254.5" stroke="#222" stroke-width="1.1" />
<line x1="201.7" y1="252.3" x2="201.7" y2="256.7" stroke="#222" stroke-width="1.1" />
<line x1="213.2" y1="252.3" x2="213.2" y2="256.7" stroke="#222" stroke-width="1.1" />
<text x="207.45" y="250.7" font-size="7" text-anchor="middle" fill="#1a1a1a">ns</text>
<line x1="236" y1="254.5" x2="248.7" y2="254.5" stroke="#222" stroke-width="1.1" />
<line x1="236.5" y1="252.3" x2="236.5" y2="256.7" stroke="#222" stroke-width="1.1" />
<line x1="248.2" y1="252.3" x2="248.2" y2="256.7" stroke="#222" stroke-width="1.1" />
<text x="242.35" y="250.7" font-size="7" text-anchor="middle" fill="#1a1a1a">ns</text>
<line x1="272.3" y1="254.5" x2="285" y2="254.5" stroke="#222" stroke-width="1.1" />
<line x1="272.8" y1="252.3" x2="272.8" y2="256.7" stroke="#222" stroke-width="1.1" />
<line x1="284.5" y1="252.3" x2="284.5" y2="256.7" stroke="#222" stroke-width="1.1" />
<line x1="276.35" y1="246.65" x2="276.35" y2="251.55" stroke="#111" stroke-width="1.05" />
<line x1="274.23" y1="247.88" x2="278.47" y2="250.32" stroke="#111" stroke-width="1.05" />
<line x1="278.47" y1="247.88" x2="274.23" y2="250.32" stroke="#111" stroke-width="1.05" />
<line x1="280.95" y1="246.65" x2="280.95" y2="251.55" stroke="#111" stroke-width="1.05" />
<line x1="278.83" y1="247.88" x2="283.07" y2="250.32" stroke="#111" stroke-width="1.05" />
<line x1="283.07" y1="247.88" x2="278.83" y2="250.32" stroke="#111" stroke-width="1.05" />
<text x="160.4" y="240.5" font-size="8.1" fill="#1a1a1a">F</text>
<text x="0" y="0" font-size="6.9" fill="#1a1a1a" text-anchor="middle" transform="translate(173.2 287.8) rotate(-90)" textLength="87" lengthAdjust="spacingAndGlyphs">CD4+IL-17+ T cells in response to</text>
<text x="0" y="0" font-size="6.9" fill="#1a1a1a" text-anchor="middle" transform="translate(181 287.8) rotate(-90)" textLength="30.7" lengthAdjust="spacingAndGlyphs"><tspan font-style="italic">Mtb</tspan> CW (%)</text>
<text x="211.1" y="338.1" font-size="7.2" text-anchor="middle" textLength="14.8" lengthAdjust="spacingAndGlyphs" fill="#1a1a1a">wk 5</text>
<text x="245.3" y="338.1" font-size="7.2" text-anchor="middle" textLength="17.8" lengthAdjust="spacingAndGlyphs" fill="#1a1a1a">wk 11</text>
<text x="280.25" y="338.1" font-size="7.2" text-anchor="middle" textLength="30.9" lengthAdjust="spacingAndGlyphs" fill="#1a1a1a">Necropsy</text>
<text x="187" y="347.5" font-size="7.2" fill="#1a1a1a" textLength="117.8" lengthAdjust="spacingAndGlyphs">Weeks post <tspan font-style="italic">M. tuberculosis</tspan> infection</text>
<line x1="47.4" y1="361.9" x2="47.4" y2="453.6" stroke="#222" stroke-width="1.1" />
<line x1="43.6" y1="453.1" x2="47.4" y2="453.1" stroke="#222" stroke-width="1" />
<text x="42" y="455.55" font-size="7" text-anchor="end" fill="#1a1a1a">0</text>
<line x1="43.6" y1="437.9" x2="47.4" y2="437.9" stroke="#222" stroke-width="1" />
<text x="42" y="440.35" font-size="7" text-anchor="end" fill="#1a1a1a">2</text>
<line x1="43.6" y1="422.7" x2="47.4" y2="422.7" stroke="#222" stroke-width="1" />
<text x="42" y="425.15" font-size="7" text-anchor="end" fill="#1a1a1a">4</text>
<line x1="43.6" y1="407.5" x2="47.4" y2="407.5" stroke="#222" stroke-width="1" />
<text x="42" y="409.95" font-size="7" text-anchor="end" fill="#1a1a1a">6</text>
<line x1="43.6" y1="392.3" x2="47.4" y2="392.3" stroke="#222" stroke-width="1" />
<text x="42" y="394.75" font-size="7" text-anchor="end" fill="#1a1a1a">8</text>
<line x1="43.6" y1="377.1" x2="47.4" y2="377.1" stroke="#222" stroke-width="1" />
<text x="42" y="379.55" font-size="7" text-anchor="end" fill="#1a1a1a">10</text>
<line x1="43.6" y1="361.9" x2="47.4" y2="361.9" stroke="#222" stroke-width="1" />
<text x="42" y="364.35" font-size="7" text-anchor="end" fill="#1a1a1a">12</text>
<path d="M53.05 453.1 V432.65 H60.05 V453.1" fill="none" stroke="rgb(62,243,12)" stroke-width="1.5"/>
<line x1="56.55" y1="424.5" x2="56.55" y2="431.9" stroke="rgb(62,243,12)" stroke-width="0.8" />
<line x1="54.35" y1="424.5" x2="58.75" y2="424.5" stroke="rgb(62,243,12)" stroke-width="0.8" />
<circle cx="56.3" cy="414.1" r="1.4" fill="rgb(62,243,12)"/>
<circle cx="56.3" cy="426.3" r="1.4" fill="rgb(62,243,12)"/>
<circle cx="56.3" cy="438.6" r="1.4" fill="rgb(62,243,12)"/>
<circle cx="53.4" cy="442.4" r="1.4" fill="rgb(62,243,12)"/>
<circle cx="59.4" cy="442.4" r="1.4" fill="rgb(62,243,12)"/>
<path d="M65.95 453.1 V407.05 H73.35 V453.1" fill="none" stroke="rgb(140,32,168)" stroke-width="1.5"/>
<line x1="69.65" y1="398.5" x2="69.65" y2="406.3" stroke="rgb(140,32,168)" stroke-width="0.8" />
<line x1="67.45" y1="398.5" x2="71.85" y2="398.5" stroke="rgb(140,32,168)" stroke-width="0.8" />
<circle cx="69.5" cy="379.1" r="1.4" fill="rgb(140,32,168)"/>
<circle cx="69.5" cy="391.1" r="1.4" fill="rgb(140,32,168)"/>
<circle cx="69.5" cy="407.4" r="1.4" fill="rgb(140,32,168)"/>
<circle cx="69.5" cy="412.5" r="1.4" fill="rgb(140,32,168)"/>
<circle cx="69.5" cy="416.3" r="1.4" fill="rgb(140,32,168)"/>
<circle cx="69.5" cy="428.6" r="1.4" fill="rgb(140,32,168)"/>
<path d="M89.05 453.1 V441.55 H95.85 V453.1" fill="none" stroke="rgb(62,243,12)" stroke-width="1.5"/>
<line x1="92.45" y1="438" x2="92.45" y2="440.8" stroke="rgb(62,243,12)" stroke-width="0.8" />
<line x1="90.25" y1="438" x2="94.65" y2="438" stroke="rgb(62,243,12)" stroke-width="0.8" />
<circle cx="92.5" cy="437.9" r="1.4" fill="rgb(62,243,12)"/>
<circle cx="88.8" cy="441.9" r="1.4" fill="rgb(62,243,12)"/>
<circle cx="96" cy="440.8" r="1.4" fill="rgb(62,243,12)"/>
<path d="M102.45 453.1 V434.85 H109.85 V453.1" fill="none" stroke="rgb(140,32,168)" stroke-width="1.5"/>
<line x1="106.15" y1="431" x2="106.15" y2="434.1" stroke="rgb(140,32,168)" stroke-width="0.8" />
<line x1="103.95" y1="431" x2="108.35" y2="431" stroke="rgb(140,32,168)" stroke-width="0.8" />
<circle cx="106.4" cy="424.5" r="1.4" fill="rgb(140,32,168)"/>
<circle cx="109.1" cy="431.2" r="1.4" fill="rgb(140,32,168)"/>
<circle cx="104" cy="433" r="1.4" fill="rgb(140,32,168)"/>
<circle cx="106" cy="436.4" r="1.4" fill="rgb(140,32,168)"/>
<circle cx="104" cy="440.2" r="1.4" fill="rgb(140,32,168)"/>
<path d="M125.45 453.1 V443.15 H132.85 V453.1" fill="none" stroke="rgb(62,243,12)" stroke-width="1.5"/>
<line x1="129.15" y1="439" x2="129.15" y2="442.4" stroke="rgb(62,243,12)" stroke-width="0.8" />
<line x1="126.95" y1="439" x2="131.35" y2="439" stroke="rgb(62,243,12)" stroke-width="0.8" />
<circle cx="129.4" cy="436.4" r="1.4" fill="rgb(62,243,12)"/>
<circle cx="126" cy="442" r="1.4" fill="rgb(62,243,12)"/>
<circle cx="132" cy="443" r="1.4" fill="rgb(62,243,12)"/>
<path d="M138.85 453.1 V431.95 H145.55 V453.1" fill="none" stroke="rgb(140,32,168)" stroke-width="1.5"/>
<line x1="142.2" y1="428.1" x2="142.2" y2="431.2" stroke="rgb(140,32,168)" stroke-width="0.8" />
<line x1="140" y1="428.1" x2="144.4" y2="428.1" stroke="rgb(140,32,168)" stroke-width="0.8" />
<circle cx="138.5" cy="426.3" r="1.4" fill="rgb(140,32,168)"/>
<circle cx="145.6" cy="426.3" r="1.4" fill="rgb(140,32,168)"/>
<circle cx="142.4" cy="421.4" r="1.4" fill="rgb(140,32,168)"/>
<circle cx="142.4" cy="432.6" r="1.4" fill="rgb(140,32,168)"/>
<circle cx="142.4" cy="439.7" r="1.4" fill="rgb(140,32,168)"/>
<line x1="43.6" y1="453.1" x2="151" y2="453.1" stroke="#222" stroke-width="1.2" />
<line x1="63" y1="453.1" x2="63" y2="456.4" stroke="#222" stroke-width="1" />
<line x1="99.5" y1="453.1" x2="99.5" y2="456.4" stroke="#222" stroke-width="1" />
<line x1="135.2" y1="453.1" x2="135.2" y2="456.4" stroke="#222" stroke-width="1" />
<line x1="56.3" y1="367.7" x2="70.1" y2="367.7" stroke="#222" stroke-width="1.1" />
<line x1="56.8" y1="365.5" x2="56.8" y2="369.9" stroke="#222" stroke-width="1.1" />
<line x1="69.6" y1="365.5" x2="69.6" y2="369.9" stroke="#222" stroke-width="1.1" />
<line x1="63.2" y1="359.25" x2="63.2" y2="364.15" stroke="#111" stroke-width="1.05" />
<line x1="61.08" y1="360.47" x2="65.32" y2="362.93" stroke="#111" stroke-width="1.05" />
<line x1="65.32" y1="360.47" x2="61.08" y2="362.93" stroke="#111" stroke-width="1.05" />
<line x1="93.5" y1="367.7" x2="107.7" y2="367.7" stroke="#222" stroke-width="1.1" />
<line x1="94" y1="365.5" x2="94" y2="369.9" stroke="#222" stroke-width="1.1" />
<line x1="107.2" y1="365.5" x2="107.2" y2="369.9" stroke="#222" stroke-width="1.1" />
<text x="100.6" y="363.5" font-size="7" text-anchor="middle" fill="#1a1a1a">ns</text>
<line x1="127.8" y1="368.4" x2="141.8" y2="368.4" stroke="#222" stroke-width="1.1" />
<line x1="128.3" y1="366.2" x2="128.3" y2="370.6" stroke="#222" stroke-width="1.1" />
<line x1="141.3" y1="366.2" x2="141.3" y2="370.6" stroke="#222" stroke-width="1.1" />
<line x1="134.8" y1="360.35" x2="134.8" y2="365.25" stroke="#111" stroke-width="1.05" />
<line x1="132.68" y1="361.57" x2="136.92" y2="364.03" stroke="#111" stroke-width="1.05" />
<line x1="136.92" y1="361.57" x2="132.68" y2="364.03" stroke="#111" stroke-width="1.05" />
<text x="3.5" y="358.6" font-size="8.1" fill="#1a1a1a">G</text>
<text x="0" y="0" font-size="6.9" fill="#1a1a1a" text-anchor="middle" transform="translate(19 407.5) rotate(-90)" textLength="96.7" lengthAdjust="spacingAndGlyphs">Lung CD4+T cells in response to</text>
<text x="0" y="0" font-size="6.9" fill="#1a1a1a" text-anchor="middle" transform="translate(27.3 407.5) rotate(-90)" textLength="59.5" lengthAdjust="spacingAndGlyphs">ESAT-6/CFP-10 (%)</text>
<text x="63.95" y="464.3" font-size="7.2" text-anchor="middle" textLength="15.3" lengthAdjust="spacingAndGlyphs" fill="#1a1a1a">IFNg</text>
<text x="100.75" y="464.3" font-size="7.2" text-anchor="middle" textLength="17.7" lengthAdjust="spacingAndGlyphs" fill="#1a1a1a">TNFa</text>
<text x="134.6" y="464.3" font-size="7.2" text-anchor="middle" textLength="13.2" lengthAdjust="spacingAndGlyphs" fill="#1a1a1a">IL17</text>
<line x1="196.1" y1="362.9" x2="196.1" y2="456.4" stroke="#222" stroke-width="1.1" />
<line x1="192.3" y1="455.9" x2="196.1" y2="455.9" stroke="#222" stroke-width="1" />
<text x="190.7" y="458.35" font-size="7" text-anchor="end" fill="#1a1a1a">0</text>
<line x1="192.3" y1="437.3" x2="196.1" y2="437.3" stroke="#222" stroke-width="1" />
<text x="190.7" y="439.75" font-size="7" text-anchor="end" fill="#1a1a1a">1</text>
<line x1="192.3" y1="418.7" x2="196.1" y2="418.7" stroke="#222" stroke-width="1" />
<text x="190.7" y="421.15" font-size="7" text-anchor="end" fill="#1a1a1a">2</text>
<line x1="192.3" y1="400.1" x2="196.1" y2="400.1" stroke="#222" stroke-width="1" />
<text x="190.7" y="402.55" font-size="7" text-anchor="end" fill="#1a1a1a">3</text>
<line x1="192.3" y1="381.5" x2="196.1" y2="381.5" stroke="#222" stroke-width="1" />
<text x="190.7" y="383.95" font-size="7" text-anchor="end" fill="#1a1a1a">4</text>
<line x1="192.3" y1="362.9" x2="196.1" y2="362.9" stroke="#222" stroke-width="1" />
<text x="190.7" y="365.35" font-size="7" text-anchor="end" fill="#1a1a1a">5</text>
<path d="M202.45 455.9 V432.95 H209.15 V455.9" fill="none" stroke="rgb(62,243,12)" stroke-width="1.5"/>
<line x1="205.8" y1="425.8" x2="205.8" y2="438" stroke="rgb(62,243,12)" stroke-width="0.8" />
<line x1="203.6" y1="425.8" x2="208" y2="425.8" stroke="rgb(62,243,12)" stroke-width="0.8" />
<line x1="203.6" y1="438" x2="208" y2="438" stroke="rgb(62,243,12)" stroke-width="0.8" />
<circle cx="203.3" cy="426.2" r="1.4" fill="rgb(62,243,12)"/>
<circle cx="209" cy="425.8" r="1.4" fill="rgb(62,243,12)"/>
<circle cx="205.8" cy="434" r="1.4" fill="rgb(62,243,12)"/>
<circle cx="205.8" cy="440.7" r="1.4" fill="rgb(62,243,12)"/>
<path d="M216.45 455.9 V400.95 H223.25 V455.9" fill="none" stroke="rgb(140,32,168)" stroke-width="1.5"/>
<line x1="219.85" y1="381.7" x2="219.85" y2="418" stroke="rgb(140,32,168)" stroke-width="0.8" />
<line x1="217.65" y1="381.7" x2="222.05" y2="381.7" stroke="rgb(140,32,168)" stroke-width="0.8" />
<line x1="217.65" y1="418" x2="222.05" y2="418" stroke="rgb(140,32,168)" stroke-width="0.8" />
<circle cx="220" cy="371.7" r="1.4" fill="rgb(140,32,168)"/>
<circle cx="220" cy="388" r="1.4" fill="rgb(140,32,168)"/>
<circle cx="220" cy="397.3" r="1.4" fill="rgb(140,32,168)"/>
<circle cx="220" cy="406.6" r="1.4" fill="rgb(140,32,168)"/>
<circle cx="220" cy="410.7" r="1.4" fill="rgb(140,32,168)"/>
<circle cx="220" cy="421.8" r="1.4" fill="rgb(140,32,168)"/>
<path d="M238.55 455.9 V434.75 H245.45 V455.9" fill="none" stroke="rgb(62,243,12)" stroke-width="1.5"/>
<line x1="242" y1="430" x2="242" y2="434" stroke="rgb(62,243,12)" stroke-width="0.8" />
<line x1="239.8" y1="430" x2="244.2" y2="430" stroke="rgb(62,243,12)" stroke-width="0.8" />
<circle cx="240" cy="431.1" r="1.4" fill="rgb(62,243,12)"/>
<circle cx="244.5" cy="431.1" r="1.4" fill="rgb(62,243,12)"/>
<circle cx="242" cy="438.5" r="1.4" fill="rgb(62,243,12)"/>
<path d="M251.85 455.9 V435.45 H258.85 V455.9" fill="none" stroke="rgb(140,32,168)" stroke-width="1.5"/>
<line x1="255.35" y1="425.8" x2="255.35" y2="443" stroke="rgb(140,32,168)" stroke-width="0.8" />
<line x1="253.15" y1="425.8" x2="257.55" y2="425.8" stroke="rgb(140,32,168)" stroke-width="0.8" />
<line x1="253.15" y1="443" x2="257.55" y2="443" stroke="rgb(140,32,168)" stroke-width="0.8" />
<circle cx="252.2" cy="422.9" r="1.4" fill="rgb(140,32,168)"/>
<circle cx="258.3" cy="422.9" r="1.4" fill="rgb(140,32,168)"/>
<circle cx="257.4" cy="434.7" r="1.4" fill="rgb(140,32,168)"/>
<circle cx="255.4" cy="441.4" r="1.4" fill="rgb(140,32,168)"/>
<circle cx="255.4" cy="445.8" r="1.4" fill="rgb(140,32,168)"/>
<path d="M274.15 455.9 V427.45 H281.15 V455.9" fill="none" stroke="rgb(62,243,12)" stroke-width="1.5"/>
<line x1="277.65" y1="415.1" x2="277.65" y2="438" stroke="rgb(62,243,12)" stroke-width="0.8" />
<line x1="275.45" y1="415.1" x2="279.85" y2="415.1" stroke="rgb(62,243,12)" stroke-width="0.8" />
<line x1="275.45" y1="438" x2="279.85" y2="438" stroke="rgb(62,243,12)" stroke-width="0.8" />
<circle cx="277.6" cy="415.6" r="1.4" fill="rgb(62,243,12)"/>
<circle cx="277.6" cy="421.8" r="1.4" fill="rgb(62,243,12)"/>
<circle cx="277.6" cy="431.8" r="1.4" fill="rgb(62,243,12)"/>
<circle cx="277.6" cy="436.9" r="1.4" fill="rgb(62,243,12)"/>
<path d="M287.45 455.9 V400.25 H294.45 V455.9" fill="none" stroke="rgb(140,32,168)" stroke-width="1.5"/>
<line x1="290.95" y1="382.8" x2="290.95" y2="414.7" stroke="rgb(140,32,168)" stroke-width="0.8" />
<line x1="288.75" y1="382.8" x2="293.15" y2="382.8" stroke="rgb(140,32,168)" stroke-width="0.8" />
<line x1="288.75" y1="414.7" x2="293.15" y2="414.7" stroke="rgb(140,32,168)" stroke-width="0.8" />
<circle cx="287.9" cy="381.7" r="1.4" fill="rgb(140,32,168)"/>
<circle cx="293.9" cy="379" r="1.4" fill="rgb(140,32,168)"/>
<circle cx="291" cy="396.9" r="1.4" fill="rgb(140,32,168)"/>
<circle cx="291" cy="406.6" r="1.4" fill="rgb(140,32,168)"/>
<circle cx="291" cy="412.4" r="1.4" fill="rgb(140,32,168)"/>
<circle cx="291" cy="417.3" r="1.4" fill="rgb(140,32,168)"/>
<line x1="192.3" y1="455.9" x2="299.8" y2="455.9" stroke="#222" stroke-width="1.2" />
<line x1="212.7" y1="455.9" x2="212.7" y2="459.2" stroke="#222" stroke-width="1" />
<line x1="248.4" y1="455.9" x2="248.4" y2="459.2" stroke="#222" stroke-width="1" />
<line x1="284.3" y1="455.9" x2="284.3" y2="459.2" stroke="#222" stroke-width="1" />
<line x1="202.4" y1="365" x2="217.3" y2="365" stroke="#222" stroke-width="1.1" />
<line x1="202.9" y1="362.8" x2="202.9" y2="367.2" stroke="#222" stroke-width="1.1" />
<line x1="216.8" y1="362.8" x2="216.8" y2="367.2" stroke="#222" stroke-width="1.1" />
<line x1="207.55" y1="356.55" x2="207.55" y2="361.45" stroke="#111" stroke-width="1.05" />
<line x1="205.43" y1="357.77" x2="209.67" y2="360.23" stroke="#111" stroke-width="1.05" />
<line x1="209.67" y1="357.77" x2="205.43" y2="360.23" stroke="#111" stroke-width="1.05" />
<line x1="212.15" y1="356.55" x2="212.15" y2="361.45" stroke="#111" stroke-width="1.05" />
<line x1="210.03" y1="357.77" x2="214.27" y2="360.23" stroke="#111" stroke-width="1.05" />
<line x1="214.27" y1="357.77" x2="210.03" y2="360.23" stroke="#111" stroke-width="1.05" />
<line x1="238" y1="365" x2="252.2" y2="365" stroke="#222" stroke-width="1.1" />
<line x1="238.5" y1="362.8" x2="238.5" y2="367.2" stroke="#222" stroke-width="1.1" />
<line x1="251.7" y1="362.8" x2="251.7" y2="367.2" stroke="#222" stroke-width="1.1" />
<text x="245.1" y="361" font-size="7" text-anchor="middle" fill="#1a1a1a">ns</text>
<line x1="275.6" y1="365" x2="290.8" y2="365" stroke="#222" stroke-width="1.1" />
<line x1="276.1" y1="362.8" x2="276.1" y2="367.2" stroke="#222" stroke-width="1.1" />
<line x1="290.3" y1="362.8" x2="290.3" y2="367.2" stroke="#222" stroke-width="1.1" />
<line x1="283.2" y1="356.55" x2="283.2" y2="361.45" stroke="#111" stroke-width="1.05" />
<line x1="281.08" y1="357.77" x2="285.32" y2="360.23" stroke="#111" stroke-width="1.05" />
<line x1="285.32" y1="357.77" x2="281.08" y2="360.23" stroke="#111" stroke-width="1.05" />
<text x="160.2" y="358.6" font-size="8.1" fill="#1a1a1a">H</text>
<text x="0" y="0" font-size="6.9" fill="#1a1a1a" text-anchor="middle" transform="translate(174 410) rotate(-90)" textLength="97.5" lengthAdjust="spacingAndGlyphs">Lung CD4+T cells in response to</text>
<text x="0" y="0" font-size="6.9" fill="#1a1a1a" text-anchor="middle" transform="translate(181.9 409.5) rotate(-90)" textLength="36.3" lengthAdjust="spacingAndGlyphs"><tspan font-style="italic">Mtb</tspan> CW (%)</text>
<text x="212.75" y="466.5" font-size="7.2" text-anchor="middle" textLength="15.9" lengthAdjust="spacingAndGlyphs" fill="#1a1a1a">IFNg</text>
<text x="248.6" y="466.5" font-size="7.2" text-anchor="middle" textLength="18.2" lengthAdjust="spacingAndGlyphs" fill="#1a1a1a">TNFa</text>
<text x="284.15" y="466.5" font-size="7.2" text-anchor="middle" textLength="13.5" lengthAdjust="spacingAndGlyphs" fill="#1a1a1a">IL17</text>
<text x="389.5" y="17.6" font-size="8.2" fill="#1a1a1a">I</text>
<circle cx="321.3" cy="16.3" r="1.3" fill="rgb(62,243,12)"/>
<text x="332" y="18.9" font-size="7.5" textLength="19.4" lengthAdjust="spacingAndGlyphs" fill="#1a1a1a">cART</text>
<circle cx="321.3" cy="28" r="1.3" fill="rgb(140,32,168)"/>
<text x="332" y="30.6" font-size="7.5" textLength="39.4" lengthAdjust="spacingAndGlyphs" fill="#1a1a1a">cART+3HP</text>
<circle cx="601.1" cy="42.2" r="1.3" fill="rgb(62,243,12)"/>
<text x="612.9" y="45" font-size="8" textLength="21.2" lengthAdjust="spacingAndGlyphs" fill="#1a1a1a">cART</text>
<circle cx="601.1" cy="56.4" r="1.3" fill="rgb(140,32,168)"/>
<text x="612.9" y="59.2" font-size="8" textLength="42.3" lengthAdjust="spacingAndGlyphs" fill="#1a1a1a">cART+3HP</text>
<line x1="438.4" y1="29.9" x2="438.4" y2="58.5" stroke="#222" stroke-width="1.1" />
<line x1="438.4" y1="68.4" x2="438.4" y2="95" stroke="#222" stroke-width="1.1" />
<line x1="438.4" y1="105.5" x2="438.4" y2="134.9" stroke="#222" stroke-width="1.1" />
<line x1="433" y1="29.9" x2="438.4" y2="29.9" stroke="#222" stroke-width="1" />
<text x="430.4" y="32.5" font-size="7.5" text-anchor="end" textLength="17.2" lengthAdjust="spacingAndGlyphs" fill="#1a1a1a">8000</text>
<line x1="433" y1="37.3" x2="438.4" y2="37.3" stroke="#222" stroke-width="1" />
<text x="430.4" y="39.9" font-size="7.5" text-anchor="end" textLength="17.2" lengthAdjust="spacingAndGlyphs" fill="#1a1a1a">6000</text>
<line x1="433" y1="44.7" x2="438.4" y2="44.7" stroke="#222" stroke-width="1" />
<text x="430.4" y="47.3" font-size="7.5" text-anchor="end" textLength="17.2" lengthAdjust="spacingAndGlyphs" fill="#1a1a1a">4000</text>
<line x1="433" y1="52.1" x2="438.4" y2="52.1" stroke="#222" stroke-width="1" />
<text x="430.4" y="54.7" font-size="7.5" text-anchor="end" textLength="17.2" lengthAdjust="spacingAndGlyphs" fill="#1a1a1a">2000</text>
<text x="430.3" y="70.3" font-size="7.6" text-anchor="end" textLength="7.6" lengthAdjust="spacingAndGlyphs" fill="#1a1a1a">30</text>
<line x1="433" y1="74.3" x2="438.4" y2="74.3" stroke="#222" stroke-width="1" />
<text x="430.3" y="77" font-size="7.6" text-anchor="end" textLength="7.6" lengthAdjust="spacingAndGlyphs" fill="#1a1a1a">25</text>
<line x1="433" y1="80.2" x2="438.4" y2="80.2" stroke="#222" stroke-width="1" />
<text x="430.3" y="82.9" font-size="7.6" text-anchor="end" textLength="7.6" lengthAdjust="spacingAndGlyphs" fill="#1a1a1a">20</text>
<line x1="433" y1="86.1" x2="438.4" y2="86.1" stroke="#222" stroke-width="1" />
<text x="430.3" y="88.8" font-size="7.6" text-anchor="end" textLength="7.6" lengthAdjust="spacingAndGlyphs" fill="#1a1a1a">15</text>
<line x1="433" y1="91.9" x2="438.4" y2="91.9" stroke="#222" stroke-width="1" />
<text x="430.3" y="94.6" font-size="7.6" text-anchor="end" textLength="7.6" lengthAdjust="spacingAndGlyphs" fill="#1a1a1a">10</text>
<text x="0" y="0" font-size="7.2" fill="#1a1a1a" text-anchor="middle" transform="translate(432 106.1) rotate(-90)">5</text>
<line x1="433" y1="111.7" x2="438.4" y2="111.7" stroke="#222" stroke-width="1" />
<text x="0" y="0" font-size="7.2" fill="#1a1a1a" text-anchor="middle" transform="translate(432 111.7) rotate(-90)">4</text>
<line x1="433" y1="117.4" x2="438.4" y2="117.4" stroke="#222" stroke-width="1" />
<text x="0" y="0" font-size="7.2" fill="#1a1a1a" text-anchor="middle" transform="translate(432 117.4) rotate(-90)">3</text>
<line x1="433" y1="122.9" x2="438.4" y2="122.9" stroke="#222" stroke-width="1" />
<text x="0" y="0" font-size="7.2" fill="#1a1a1a" text-anchor="middle" transform="translate(432 122.9) rotate(-90)">2</text>
<line x1="433" y1="128.5" x2="438.4" y2="128.5" stroke="#222" stroke-width="1" />
<text x="0" y="0" font-size="7.2" fill="#1a1a1a" text-anchor="middle" transform="translate(432 128.5) rotate(-90)">1</text>
<line x1="433" y1="134.2" x2="438.4" y2="134.2" stroke="#222" stroke-width="1" />
<text x="0" y="0" font-size="7.2" fill="#1a1a1a" text-anchor="middle" transform="translate(432 134.2) rotate(-90)">0</text>
<text x="0" y="0" font-size="7.5" fill="#1a1a1a" text-anchor="middle" transform="translate(408.8 82) rotate(-90)" textLength="61" lengthAdjust="spacingAndGlyphs">Cytokines (pg/mL)</text>
<line x1="444.9" y1="134.4" x2="444.9" y2="138.3" stroke="#222" stroke-width="1.3" />
<line x1="460.8" y1="134.4" x2="460.8" y2="138.3" stroke="#222" stroke-width="1.3" />
<line x1="476.6" y1="134.4" x2="476.6" y2="138.3" stroke="#222" stroke-width="1.3" />
<line x1="492.4" y1="134.4" x2="492.4" y2="138.3" stroke="#222" stroke-width="1.3" />
<line x1="508.3" y1="134.4" x2="508.3" y2="138.3" stroke="#222" stroke-width="1.3" />
<line x1="524" y1="134.4" x2="524" y2="138.3" stroke="#222" stroke-width="1.3" />
<line x1="539.9" y1="134.4" x2="539.9" y2="138.3" stroke="#222" stroke-width="1.3" />
<line x1="555.4" y1="134.4" x2="555.4" y2="138.3" stroke="#222" stroke-width="1.3" />
<line x1="571.3" y1="134.4" x2="571.3" y2="138.3" stroke="#222" stroke-width="1.3" />
<line x1="587.2" y1="134.4" x2="587.2" y2="138.3" stroke="#222" stroke-width="1.3" />
<text x="0" y="0" font-size="7.7" fill="#1a1a1a" text-anchor="end" transform="translate(447.2 145.8) rotate(-45)">IL-2</text>
<text x="0" y="0" font-size="7.7" fill="#1a1a1a" text-anchor="end" transform="translate(463.1 145.8) rotate(-45)" textLength="57" lengthAdjust="spacingAndGlyphs">IP-10 (CXCL10)</text>
<text x="0" y="0" font-size="7.7" fill="#1a1a1a" text-anchor="end" transform="translate(478.9 145.8) rotate(-45)">IL-6</text>
<text x="0" y="0" font-size="7.7" fill="#1a1a1a" text-anchor="end" transform="translate(494.7 145.8) rotate(-45)">IL-10</text>
<text x="0" y="0" font-size="7.7" fill="#1a1a1a" text-anchor="end" transform="translate(510.6 145.8) rotate(-45)">TGF beta 1</text>
<text x="0" y="0" font-size="7.7" fill="#1a1a1a" text-anchor="end" transform="translate(526.3 145.8) rotate(-45)">IL-1RA</text>
<text x="0" y="0" font-size="7.7" fill="#1a1a1a" text-anchor="end" transform="translate(542.2 145.8) rotate(-45)">TNF alpha</text>
<text x="0" y="0" font-size="7.7" fill="#1a1a1a" text-anchor="end" transform="translate(557.7 145.8) rotate(-45)">IL-15</text>
<text x="0" y="0" font-size="7.7" fill="#1a1a1a" text-anchor="end" transform="translate(573.6 145.8) rotate(-45)">IL-18</text>
<text x="0" y="0" font-size="7.7" fill="#1a1a1a" text-anchor="end" transform="translate(589.5 145.8) rotate(-45)">Granzyme B</text>
<path d="M441.07 134.4 V127.08 H443.02 V134.4" fill="none" stroke="rgb(62,243,12)" stroke-width="1.75"/>
<line x1="442.05" y1="115.9" x2="442.05" y2="126.2" stroke="rgb(62,243,12)" stroke-width="0.8" />
<path d="M446.98 134.4 V127.97 H449.12 V134.4" fill="none" stroke="rgb(140,32,168)" stroke-width="1.75"/>
<line x1="448.05" y1="121.5" x2="448.05" y2="127.1" stroke="rgb(140,32,168)" stroke-width="0.8" />
<path d="M456.98 134.4 V132.18 H458.93 V134.4" fill="none" stroke="rgb(62,243,12)" stroke-width="1.75"/>
<line x1="457.95" y1="127.4" x2="457.95" y2="131.3" stroke="rgb(62,243,12)" stroke-width="0.8" />
<path d="M463.07 134.4 V132.68 H465.02 V134.4" fill="none" stroke="rgb(140,32,168)" stroke-width="1.75"/>
<path d="M472.88 134.4 V128.18 H474.82 V134.4" fill="none" stroke="rgb(62,243,12)" stroke-width="1.75"/>
<line x1="473.85" y1="121.5" x2="473.85" y2="127.3" stroke="rgb(62,243,12)" stroke-width="0.8" />
<path d="M478.98 134.4 V128.47 H480.93 V134.4" fill="none" stroke="rgb(140,32,168)" stroke-width="1.75"/>
<path d="M488.77 134.4 V127.97 H490.73 V134.4" fill="none" stroke="rgb(62,243,12)" stroke-width="1.75"/>
<line x1="489.75" y1="121.7" x2="489.75" y2="127.1" stroke="rgb(62,243,12)" stroke-width="0.8" />
<path d="M494.88 134.4 V127.47 H496.82 V134.4" fill="none" stroke="rgb(140,32,168)" stroke-width="1.75"/>
<path d="M503.98 134.4 V91.47 H505.82 V134.4" fill="none" stroke="rgb(62,243,12)" stroke-width="1.75"/>
<path d="M509.88 134.4 V93.97 H512.52 V134.4" fill="none" stroke="rgb(140,32,168)" stroke-width="1.75"/>
<line x1="511.2" y1="84.1" x2="511.2" y2="93.1" stroke="rgb(140,32,168)" stroke-width="0.8" />
<path d="M519.77 134.4 V48.38 H521.83 V134.4" fill="none" stroke="rgb(62,243,12)" stroke-width="1.75"/>
<line x1="520.8" y1="33.5" x2="520.8" y2="47.5" stroke="rgb(62,243,12)" stroke-width="0.8" />
<path d="M525.88 134.4 V53.48 H528.33 V134.4" fill="none" stroke="rgb(140,32,168)" stroke-width="1.75"/>
<path d="M536.08 134.4 V124.88 H538.12 V134.4" fill="none" stroke="rgb(62,243,12)" stroke-width="1.75"/>
<line x1="537.1" y1="120.4" x2="537.1" y2="124" stroke="rgb(62,243,12)" stroke-width="0.8" />
<path d="M541.88 134.4 V124.08 H543.92 V134.4" fill="none" stroke="rgb(140,32,168)" stroke-width="1.75"/>
<path d="M551.98 134.4 V114.58 H554.02 V134.4" fill="none" stroke="rgb(62,243,12)" stroke-width="1.75"/>
<line x1="553" y1="107.4" x2="553" y2="113.7" stroke="rgb(62,243,12)" stroke-width="0.8" />
<path d="M557.98 134.4 V131.78 H560.02 V134.4" fill="none" stroke="rgb(140,32,168)" stroke-width="1.75"/>
<line x1="559" y1="128.1" x2="559" y2="130.9" stroke="rgb(140,32,168)" stroke-width="0.8" />
<path d="M567.48 134.4 V112.67 H569.92 V134.4" fill="none" stroke="rgb(62,243,12)" stroke-width="1.75"/>
<line x1="568.7" y1="90.2" x2="568.7" y2="111.8" stroke="rgb(62,243,12)" stroke-width="0.8" />
<path d="M573.67 134.4 V133.07 H575.33 V134.4" fill="none" stroke="rgb(140,32,168)" stroke-width="1.75"/>
<path d="M583.48 134.4 V118.78 H585.73 V134.4" fill="none" stroke="rgb(62,243,12)" stroke-width="1.75"/>
<line x1="584.6" y1="95" x2="584.6" y2="117.9" stroke="rgb(62,243,12)" stroke-width="0.8" />
<path d="M589.17 134.4 V125.67 H591.23 V134.4" fill="none" stroke="rgb(140,32,168)" stroke-width="1.75"/>
<rect x="439.2" y="59.2" width="160" height="8.6" fill="#fff"/>
<rect x="439.2" y="95.5" width="160" height="9.6" fill="#fff"/>
<line x1="435.1" y1="56" x2="441" y2="61.6" stroke="#222" stroke-width="1.35" />
<line x1="435.2" y1="65.1" x2="441" y2="70.7" stroke="#222" stroke-width="1.35" />
<line x1="435.2" y1="94.3" x2="441.5" y2="99.5" stroke="#222" stroke-width="1.35" />
<line x1="435" y1="102.6" x2="441.3" y2="107.9" stroke="#222" stroke-width="1.35" />
<circle cx="442.05" cy="115.9" r="1.55" fill="rgb(62,243,12)"/>
<circle cx="442.05" cy="134.6" r="1.55" fill="rgb(62,243,12)"/>
<circle cx="448.05" cy="121.5" r="1.55" fill="rgb(140,32,168)"/>
<circle cx="457.95" cy="127.4" r="1.55" fill="rgb(62,243,12)"/>
<circle cx="457.95" cy="133.5" r="1.55" fill="rgb(62,243,12)"/>
<circle cx="464.05" cy="132.6" r="1.55" fill="rgb(140,32,168)"/>
<circle cx="464.05" cy="133.6" r="1.55" fill="rgb(140,32,168)"/>
<circle cx="473.85" cy="121.5" r="1.55" fill="rgb(62,243,12)"/>
<circle cx="479.95" cy="122.9" r="1.55" fill="rgb(140,32,168)"/>
<circle cx="479.95" cy="125.2" r="1.55" fill="rgb(140,32,168)"/>
<circle cx="479.95" cy="134.3" r="1.55" fill="rgb(140,32,168)"/>
<circle cx="489.75" cy="121.7" r="1.55" fill="rgb(62,243,12)"/>
<circle cx="504.9" cy="91.2" r="1.55" fill="rgb(62,243,12)"/>
<circle cx="504.9" cy="92.6" r="1.55" fill="rgb(62,243,12)"/>
<circle cx="511.2" cy="84.1" r="1.55" fill="rgb(140,32,168)"/>
<circle cx="511.2" cy="93.5" r="1.55" fill="rgb(140,32,168)"/>
<circle cx="520.8" cy="33.5" r="1.55" fill="rgb(62,243,12)"/>
<circle cx="527.1" cy="53.2" r="1.55" fill="rgb(140,32,168)"/>
<circle cx="527.1" cy="55" r="1.55" fill="rgb(140,32,168)"/>
<circle cx="537.1" cy="120.4" r="1.55" fill="rgb(62,243,12)"/>
<circle cx="553" cy="109.9" r="1.55" fill="rgb(62,243,12)"/>
<circle cx="559" cy="128.1" r="1.55" fill="rgb(140,32,168)"/>
<circle cx="568.7" cy="90.2" r="1.55" fill="rgb(62,243,12)"/>
<circle cx="584.6" cy="95" r="1.55" fill="rgb(62,243,12)"/>
<line x1="434" y1="134.4" x2="594.3" y2="134.4" stroke="#222" stroke-width="1.2" />
<line x1="442.1" y1="26.7" x2="452.7" y2="26.7" stroke="#222" stroke-width="1.1" />
<line x1="442.6" y1="23.8" x2="442.6" y2="29.6" stroke="#222" stroke-width="1.1" />
<line x1="452.2" y1="23.8" x2="452.2" y2="29.6" stroke="#222" stroke-width="1.1" />
<text x="447.4" y="22" font-size="7" text-anchor="middle" fill="#1a1a1a">ns</text>
<line x1="455.2" y1="26.7" x2="465.1" y2="26.7" stroke="#222" stroke-width="1.1" />
<line x1="455.7" y1="23.8" x2="455.7" y2="29.6" stroke="#222" stroke-width="1.1" />
<line x1="464.6" y1="23.8" x2="464.6" y2="29.6" stroke="#222" stroke-width="1.1" />
<text x="460.15" y="22" font-size="7" text-anchor="middle" fill="#1a1a1a">ns</text>
<line x1="468.3" y1="26.7" x2="479.6" y2="26.7" stroke="#222" stroke-width="1.1" />
<line x1="468.8" y1="23.8" x2="468.8" y2="29.6" stroke="#222" stroke-width="1.1" />
<line x1="479.1" y1="23.8" x2="479.1" y2="29.6" stroke="#222" stroke-width="1.1" />
<text x="473.95" y="22" font-size="7" text-anchor="middle" fill="#1a1a1a">ns</text>
<line x1="484.9" y1="26.7" x2="493.4" y2="26.7" stroke="#222" stroke-width="1.1" />
<line x1="485.4" y1="23.8" x2="485.4" y2="29.6" stroke="#222" stroke-width="1.1" />
<line x1="492.9" y1="23.8" x2="492.9" y2="29.6" stroke="#222" stroke-width="1.1" />
<text x="489.15" y="22" font-size="7" text-anchor="middle" fill="#1a1a1a">ns</text>
<line x1="499.1" y1="26.8" x2="512.8" y2="26.8" stroke="#222" stroke-width="1.1" />
<line x1="499.6" y1="23.9" x2="499.6" y2="29.7" stroke="#222" stroke-width="1.1" />
<line x1="512.3" y1="23.9" x2="512.3" y2="29.7" stroke="#222" stroke-width="1.1" />
<text x="505.95" y="21.6" font-size="7" text-anchor="middle" fill="#1a1a1a">ns</text>
<line x1="516.6" y1="27.5" x2="530.8" y2="27.5" stroke="#222" stroke-width="1.1" />
<line x1="517.1" y1="24.6" x2="517.1" y2="30.4" stroke="#222" stroke-width="1.1" />
<line x1="530.3" y1="24.6" x2="530.3" y2="30.4" stroke="#222" stroke-width="1.1" />
<text x="523.7" y="22.6" font-size="7" text-anchor="middle" fill="#1a1a1a">ns</text>
<line x1="532.7" y1="27.2" x2="544.3" y2="27.2" stroke="#222" stroke-width="1.1" />
<line x1="533.2" y1="24.3" x2="533.2" y2="30.1" stroke="#222" stroke-width="1.1" />
<line x1="543.8" y1="24.3" x2="543.8" y2="30.1" stroke="#222" stroke-width="1.1" />
<text x="538.5" y="22.6" font-size="7" text-anchor="middle" fill="#1a1a1a">ns</text>
<line x1="548.3" y1="26.5" x2="557.8" y2="26.5" stroke="#222" stroke-width="1.1" />
<line x1="548.8" y1="23.6" x2="548.8" y2="29.4" stroke="#222" stroke-width="1.1" />
<line x1="557.3" y1="23.6" x2="557.3" y2="29.4" stroke="#222" stroke-width="1.1" />
<line x1="553.05" y1="16.3" x2="553.05" y2="21.9" stroke="#111" stroke-width="1.4" />
<line x1="550.63" y1="17.7" x2="555.47" y2="20.5" stroke="#111" stroke-width="1.4" />
<line x1="555.47" y1="17.7" x2="550.63" y2="20.5" stroke="#111" stroke-width="1.4" />
<line x1="564.3" y1="27.2" x2="572.7" y2="27.2" stroke="#222" stroke-width="1.1" />
<line x1="564.8" y1="24.3" x2="564.8" y2="30.1" stroke="#222" stroke-width="1.1" />
<line x1="572.2" y1="24.3" x2="572.2" y2="30.1" stroke="#222" stroke-width="1.1" />
<line x1="568.5" y1="17.35" x2="568.5" y2="22.25" stroke="#111" stroke-width="1.4" />
<line x1="566.38" y1="18.57" x2="570.62" y2="21.03" stroke="#111" stroke-width="1.4" />
<line x1="570.62" y1="18.57" x2="566.38" y2="21.03" stroke="#111" stroke-width="1.4" />
<line x1="578.2" y1="28" x2="588.4" y2="28" stroke="#222" stroke-width="1.1" />
<line x1="578.7" y1="25.1" x2="578.7" y2="30.9" stroke="#222" stroke-width="1.1" />
<line x1="587.9" y1="25.1" x2="587.9" y2="30.9" stroke="#222" stroke-width="1.1" />
<line x1="583.3" y1="17.95" x2="583.3" y2="22.85" stroke="#111" stroke-width="1.4" />
<line x1="581.18" y1="19.17" x2="585.42" y2="21.62" stroke="#111" stroke-width="1.4" />
<line x1="585.42" y1="19.17" x2="581.18" y2="21.62" stroke="#111" stroke-width="1.4" />
<text x="378.4" y="201.3" font-size="8.3" fill="#1a1a1a">J</text>
<polygon points="478.6,270.6 474.42,272.84 474.38,268.44" fill="rgb(224,110,36)"/>
<line x1="431.7" y1="271" x2="474.4" y2="270.64" stroke="rgb(224,110,36)" stroke-width="1.2" />
<line x1="468.5" y1="232" x2="485.5" y2="264" stroke="rgb(224,110,36)" stroke-width="1.2" stroke-dasharray="4.6 2.6"/>
<line x1="483.2" y1="265.22" x2="487.8" y2="262.78" stroke="rgb(224,110,36)" stroke-width="0.9" />
<line x1="470.2" y1="226" x2="526.5" y2="254" stroke="rgb(224,110,36)" stroke-width="1.2" stroke-dasharray="4.6 2.6"/>
<line x1="525.34" y1="256.33" x2="527.66" y2="251.67" stroke="rgb(224,110,36)" stroke-width="0.9" />
<line x1="509.5" y1="210" x2="493.5" y2="264.2" stroke="rgb(224,110,36)" stroke-width="1.2" stroke-dasharray="4.6 2.6"/>
<line x1="491.01" y1="263.46" x2="495.99" y2="264.94" stroke="rgb(224,110,36)" stroke-width="0.9" />
<line x1="513.5" y1="210" x2="533.5" y2="253.2" stroke="rgb(224,110,36)" stroke-width="1.2" stroke-dasharray="4.6 2.6"/>
<line x1="531.14" y1="254.29" x2="535.86" y2="252.11" stroke="rgb(224,110,36)" stroke-width="0.9" />
<line x1="557" y1="216.5" x2="498" y2="265.5" stroke="rgb(224,110,36)" stroke-width="1.2" />
<line x1="496.34" y1="263.5" x2="499.66" y2="267.5" stroke="rgb(224,110,36)" stroke-width="0.9" />
<line x1="560" y1="217" x2="542.5" y2="252.8" stroke="rgb(224,110,36)" stroke-width="1.2" />
<line x1="540.16" y1="251.66" x2="544.84" y2="253.94" stroke="rgb(224,110,36)" stroke-width="0.9" />
<polygon points="531,263.8 529.12,268.15 526.35,264.74" fill="#666"/>
<line x1="476.5" y1="308" x2="527.74" y2="266.45" stroke="#666" stroke-width="0.9" stroke-dasharray="2.5 1.8"/>
<polygon points="572.6,289.2 568.01,290.39 569.01,286.1" fill="rgb(224,110,36)"/>
<line x1="501.5" y1="272.6" x2="568.51" y2="288.25" stroke="rgb(224,110,36)" stroke-width="1.2" />
<polygon points="499.8,353.5 497.14,349.57 501.52,349.08" fill="rgb(224,110,36)"/>
<line x1="491" y1="275.5" x2="499.33" y2="349.33" stroke="rgb(224,110,36)" stroke-width="1.2" />
<polygon points="545,263.2 549.7,263.81 547.18,267.41" fill="rgb(224,110,36)"/>
<line x1="578" y1="286.3" x2="548.44" y2="265.61" stroke="rgb(224,110,36)" stroke-width="1.2" />
<polygon points="596,290.6 599.92,287.94 600.42,292.31" fill="rgb(224,110,36)"/>
<line x1="631" y1="286.6" x2="600.17" y2="290.12" stroke="rgb(224,110,36)" stroke-width="1.2" stroke-dasharray="4.6 2.6"/>
<polygon points="588.4,339 585.87,334.99 590.26,334.64" fill="rgb(224,110,36)"/>
<line x1="585" y1="296.6" x2="588.06" y2="334.81" stroke="rgb(224,110,36)" stroke-width="1.2" />
<polygon points="536.3,264 537.51,268.59 533.22,267.6" fill="rgb(224,110,36)"/>
<line x1="525.3" y1="312" x2="535.36" y2="268.09" stroke="rgb(224,110,36)" stroke-width="1.2" stroke-dasharray="4.6 2.6"/>
<polygon points="578,341 573.27,341.27 575.08,337.26" fill="rgb(224,110,36)"/>
<line x1="530.5" y1="319.5" x2="574.17" y2="339.27" stroke="rgb(224,110,36)" stroke-width="1.2" stroke-dasharray="4.6 2.6"/>
<polygon points="504.6,353.5 504.67,348.76 508.53,350.85" fill="rgb(224,110,36)"/>
<line x1="521.5" y1="322.3" x2="506.6" y2="349.81" stroke="rgb(224,110,36)" stroke-width="1.2" stroke-dasharray="4.6 2.6"/>
<line x1="482.5" y1="312.8" x2="515.5" y2="316.3" stroke="rgb(224,110,36)" stroke-width="1.2" stroke-dasharray="4.6 2.6"/>
<line x1="473" y1="306" x2="487" y2="275.5" stroke="rgb(58,110,240)" stroke-width="1.2" stroke-dasharray="4.6 2.6"/>
<line x1="475.2" y1="306.6" x2="488.6" y2="277.2" stroke="rgb(224,110,36)" stroke-width="1.2" stroke-dasharray="4.6 2.6"/>
<line x1="490.97" y1="278.28" x2="486.23" y2="276.12" stroke="rgb(224,110,36)" stroke-width="0.9" />
<polygon points="466.2,235.5 468.65,239.56 464.26,239.83" fill="rgb(58,110,240)"/>
<line x1="470.5" y1="306" x2="466.46" y2="239.69" stroke="rgb(58,110,240)" stroke-width="1.2" stroke-dasharray="4.6 2.6"/>
<line x1="475.6" y1="317.5" x2="496" y2="350.2" stroke="rgb(224,110,36)" stroke-width="1.2" stroke-dasharray="4.6 2.6"/>
<line x1="493.79" y1="351.58" x2="498.21" y2="348.82" stroke="rgb(224,110,36)" stroke-width="0.9" />
<line x1="467" y1="317.8" x2="454.2" y2="343.3" stroke="rgb(58,110,240)" stroke-width="1.2" stroke-dasharray="4.6 2.6"/>
<line x1="451.88" y1="342.13" x2="456.52" y2="344.47" stroke="rgb(58,110,240)" stroke-width="0.9" />
<line x1="519.8" y1="319.5" x2="458.6" y2="344.8" stroke="rgb(58,110,240)" stroke-width="1.2" stroke-dasharray="4.6 2.6"/>
<line x1="457.61" y1="342.4" x2="459.59" y2="347.2" stroke="rgb(58,110,240)" stroke-width="0.9" />
<line x1="520.2" y1="320.8" x2="438" y2="400.6" stroke="rgb(58,110,240)" stroke-width="1.2" stroke-dasharray="4.6 2.6"/>
<line x1="436.19" y1="398.73" x2="439.81" y2="402.47" stroke="rgb(58,110,240)" stroke-width="0.9" />
<line x1="494" y1="363.5" x2="439.6" y2="401.6" stroke="rgb(58,110,240)" stroke-width="1.2" stroke-dasharray="4.6 2.6"/>
<line x1="438.11" y1="399.47" x2="441.09" y2="403.73" stroke="rgb(58,110,240)" stroke-width="0.9" />
<line x1="524.3" y1="322.3" x2="518.4" y2="394.2" stroke="rgb(58,110,240)" stroke-width="1.2" stroke-dasharray="4.6 2.6"/>
<line x1="515.81" y1="393.99" x2="520.99" y2="394.41" stroke="rgb(58,110,240)" stroke-width="0.9" />
<line x1="427.5" y1="385.2" x2="445.2" y2="358.3" stroke="rgb(58,110,240)" stroke-width="1.2" stroke-dasharray="4.6 2.6"/>
<line x1="447.37" y1="359.73" x2="443.03" y2="356.87" stroke="rgb(58,110,240)" stroke-width="0.9" />
<polygon points="491.2,362.4 488.16,366.04 486.48,361.97" fill="rgb(224,110,36)"/>
<line x1="430.1" y1="387.6" x2="487.32" y2="364" stroke="rgb(224,110,36)" stroke-width="1.2" />
<polygon points="560.4,388.2 555.66,388.31 557.61,384.36" fill="rgb(224,110,36)"/>
<line x1="508.5" y1="362.5" x2="556.64" y2="386.34" stroke="rgb(224,110,36)" stroke-width="1.2" />
<polygon points="569.5,385 569.2,380.27 573.22,382.06" fill="rgb(224,110,36)"/>
<line x1="585.5" y1="349" x2="571.21" y2="381.16" stroke="rgb(224,110,36)" stroke-width="1.2" />
<line x1="453.5" y1="355.5" x2="515" y2="398" stroke="#666" stroke-width="0.7" stroke-dasharray="0.9 1.6"/>
<line x1="435.2" y1="410.5" x2="485" y2="449" stroke="#666" stroke-width="0.7" stroke-dasharray="0.9 1.6"/>
<line x1="424" y1="395.6" x2="427.4" y2="397.6" stroke="rgb(58,110,240)" stroke-width="1.2" stroke-dasharray="4.6 2.6"/>
<line x1="426.08" y1="399.84" x2="428.72" y2="395.36" stroke="rgb(58,110,240)" stroke-width="0.9" />
<rect x="459.1" y="211.3" width="11.1" height="23" fill="rgb(58,110,240)"/>
<text x="464.65" y="225.2" font-size="6.8" text-anchor="middle" textLength="23.1" lengthAdjust="spacingAndGlyphs" fill="#1a1a1a">ACKR2</text>
<polygon points="511.5,189.7 515.9,200.7 511.5,211.7 507.1,200.7" fill="rgb(58,110,240)"/>
<text x="511.6" y="203.1" font-size="6.8" text-anchor="middle" textLength="21.2" lengthAdjust="spacingAndGlyphs" fill="#1a1a1a">PNPT1</text>
<ellipse cx="561.8" cy="211.6" rx="11.4" ry="5" fill="rgb(58,110,240)" stroke="rgb(40,80,200)" stroke-width="0.5"/>
<text x="561.8" y="214" font-size="6.8" text-anchor="middle" textLength="21" lengthAdjust="spacingAndGlyphs" fill="#1a1a1a">TRIM24</text>
<ellipse cx="420.5" cy="271" rx="11.2" ry="4.8" fill="rgb(224,110,36)" stroke="rgb(190,85,20)" stroke-width="0.5"/>
<text x="420.5" y="273.4" font-size="6.8" text-anchor="middle" textLength="19.5" lengthAdjust="spacingAndGlyphs" fill="#1a1a1a">NONO</text>
<ellipse cx="490.3" cy="270.5" rx="11.2" ry="4.8" fill="rgb(224,110,36)" stroke="rgb(190,85,20)" stroke-width="0.5"/>
<text x="490.3" y="272.9" font-size="6.8" text-anchor="middle" textLength="19" lengthAdjust="spacingAndGlyphs" fill="#1a1a1a">STAT1</text>
<ellipse cx="537.3" cy="258.5" rx="11.4" ry="4.8" fill="rgb(224,110,36)" stroke="rgb(190,85,20)" stroke-width="0.5"/>
<text x="537.3" y="260.9" font-size="6.8" text-anchor="middle" textLength="14.5" lengthAdjust="spacingAndGlyphs" fill="#1a1a1a">IRF7</text>
<ellipse cx="584.2" cy="291.1" rx="11.5" ry="5.2" fill="rgb(224,110,36)" stroke="rgb(190,85,20)" stroke-width="0.5"/>
<text x="584.2" y="293.5" font-size="6.8" text-anchor="middle" textLength="14.5" lengthAdjust="spacingAndGlyphs" fill="#1a1a1a">IRF9</text>
<polygon points="636.5,274.4 641.3,285.9 636.5,297.4 631.7,285.9" fill="rgb(224,110,36)"/>
<text x="637" y="288.3" font-size="6.8" text-anchor="middle" textLength="19.2" lengthAdjust="spacingAndGlyphs" fill="#1a1a1a">CGAS</text>
<rect x="466.6" y="307" width="10.2" height="10.2" fill="rgb(58,110,240)"/>
<text x="471.65" y="314.6" font-size="6.8" text-anchor="middle" textLength="21.1" lengthAdjust="spacingAndGlyphs" fill="#1a1a1a">TGFB1</text>
<rect x="519.8" y="312.1" width="10.5" height="9.8" fill="rgb(224,110,36)"/>
<text x="525.05" y="319.4" font-size="6.8" text-anchor="middle" textLength="19.5" lengthAdjust="spacingAndGlyphs" fill="#1a1a1a">IFNA2</text>
<ellipse cx="589" cy="344" rx="11.5" ry="5" fill="rgb(224,110,36)" stroke="rgb(190,85,20)" stroke-width="0.5"/>
<text x="589" y="346.4" font-size="6.8" text-anchor="middle" textLength="14.5" lengthAdjust="spacingAndGlyphs" fill="#1a1a1a">IRF5</text>
<rect x="447.3" y="344.15" width="5.4" height="14.5" fill="rgb(58,110,240)"/>
<rect x="443.1" y="349.05" width="13.8" height="4.7" fill="rgb(58,110,240)"/>
<text x="449.9" y="353.8" font-size="6.8" text-anchor="middle" textLength="41.4" lengthAdjust="spacingAndGlyphs" fill="#1a1a1a">Viral Infection</text>
<ellipse cx="500.8" cy="358.7" rx="11.2" ry="4.6" fill="rgb(224,110,36)" stroke="rgb(190,85,20)" stroke-width="0.5"/>
<text x="500.8" y="361.1" font-size="6.8" text-anchor="middle" textLength="14.5" lengthAdjust="spacingAndGlyphs" fill="#1a1a1a">IRF1</text>
<rect x="418.9" y="385.3" width="10.6" height="10.2" fill="rgb(224,110,36)"/>
<text x="424.45" y="392.9" font-size="6.8" text-anchor="middle" textLength="44.9" lengthAdjust="spacingAndGlyphs" fill="#1a1a1a">IFNA1/IFNA13</text>
<rect x="560.3" y="385" width="10.9" height="10.5" fill="rgb(224,110,36)"/>
<text x="565.75" y="393.1" font-size="6.8" text-anchor="middle" textLength="18.9" lengthAdjust="spacingAndGlyphs" fill="#1a1a1a">IFNA4</text>
<rect x="429.4" y="399.8" width="5.4" height="14" fill="rgb(58,110,240)"/>
<rect x="426.1" y="404.6" width="12" height="4.4" fill="rgb(58,110,240)"/>
<text x="432.15" y="409" font-size="6.8" text-anchor="middle" textLength="89.1" lengthAdjust="spacingAndGlyphs" fill="#1a1a1a">Replication of Rhabdoviridae</text>
<rect x="514.8" y="396" width="5.6" height="14" fill="rgb(58,110,240)"/>
<rect x="511.6" y="400.8" width="12" height="4.4" fill="rgb(58,110,240)"/>
<text x="517.15" y="405.5" font-size="6.8" text-anchor="middle" textLength="69.1" lengthAdjust="spacingAndGlyphs" fill="#1a1a1a">Infection by RNA virus</text>
<polygon points="487.9,445.3 492.5,456.3 487.9,467.3 483.3,456.3" fill="rgb(58,110,240)"/>
<text x="487.8" y="458.7" font-size="6.8" text-anchor="middle" textLength="20.6" lengthAdjust="spacingAndGlyphs" fill="#1a1a1a">TREX1</text>
<path d="M596.5 369.6 H594.3 V465.2 H679.6 V369.6 H676.8" fill="none" stroke="#888" stroke-width="0.6"/>
<text x="637.2" y="371.6" font-size="5.9" text-anchor="middle" textLength="75.2" lengthAdjust="spacingAndGlyphs" fill="#1a1a1a">Graphical Summary Legend</text>
<text x="595.8" y="387.8" font-size="6.2" textLength="47.5" lengthAdjust="spacingAndGlyphs" fill="#1a1a1a">Predicted Activity</text>
<ellipse cx="603.5" cy="394.8" rx="5.8" ry="3.3" fill="rgb(236,96,32)"/>
<text x="617.2" y="396.9" font-size="6.2" textLength="53.4" lengthAdjust="spacingAndGlyphs" fill="#1a1a1a">Predicted activation</text>
<ellipse cx="603.5" cy="405.2" rx="5.8" ry="3.3" fill="rgb(60,112,245)"/>
<text x="618.4" y="407.3" font-size="6.2" textLength="51.2" lengthAdjust="spacingAndGlyphs" fill="#1a1a1a">Predicted inhibition</text>
<text x="595.8" y="421.8" font-size="6.2" textLength="82.2" lengthAdjust="spacingAndGlyphs" fill="#1a1a1a">Relationships Between Nodes</text>
<line x1="595.6" y1="428" x2="609.2" y2="428" stroke="rgb(236,96,32)" stroke-width="1.4" />
<text x="612.2" y="430.1" font-size="6.2" textLength="51.3" lengthAdjust="spacingAndGlyphs" fill="#1a1a1a">Leads to activation</text>
<line x1="595.6" y1="435.9" x2="609.2" y2="435.9" stroke="rgb(60,112,245)" stroke-width="1.4" />
<text x="612.2" y="438" font-size="6.2" textLength="49.6" lengthAdjust="spacingAndGlyphs" fill="#1a1a1a">Leads to inhibition</text>
<line x1="595.6" y1="443.8" x2="609.2" y2="443.8" stroke="#999" stroke-width="1.1" stroke-dasharray="0.9 0.7"/>
<text x="612.2" y="445.9" font-size="6.2" textLength="53" lengthAdjust="spacingAndGlyphs" fill="#1a1a1a">Inferred relationship</text>
<line x1="595.6" y1="451.7" x2="609.2" y2="451.7" stroke="#777" stroke-width="1.2" stroke-dasharray="1.7 1.6"/>
<text x="612.2" y="453.8" font-size="6.2" textLength="49.6" lengthAdjust="spacingAndGlyphs" fill="#1a1a1a">Indirect interaction</text>
<line x1="595.6" y1="459.6" x2="609.2" y2="459.6" stroke="#666" stroke-width="1.4" />
<text x="612.2" y="461.7" font-size="6.2" textLength="45.1" lengthAdjust="spacingAndGlyphs" fill="#1a1a1a">Direct interaction</text>
</svg></body></html>
